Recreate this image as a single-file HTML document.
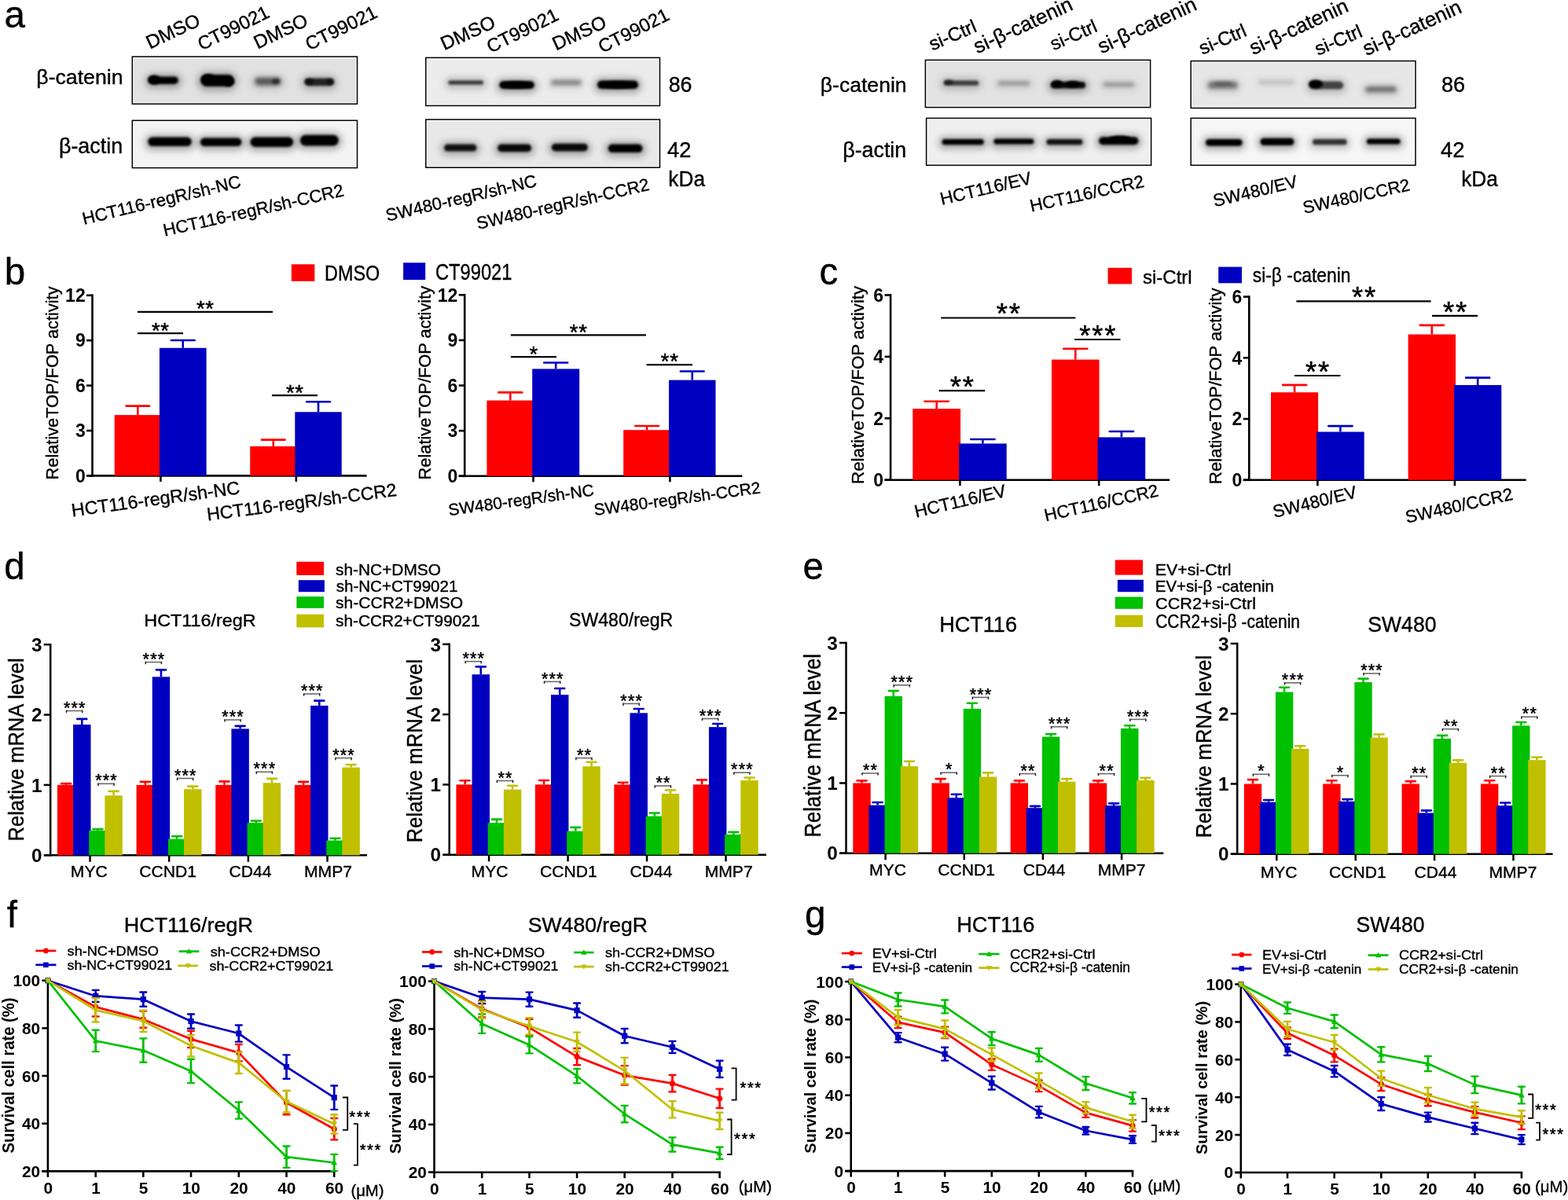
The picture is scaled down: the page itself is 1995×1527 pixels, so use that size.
<!DOCTYPE html>
<html><head><meta charset="utf-8"><title>Figure</title>
<style>
html,body{margin:0;padding:0;background:#fff;}
svg{display:block;}
text{font-family:'Liberation Sans', Arial, sans-serif;}
</style></head><body>
<svg xmlns="http://www.w3.org/2000/svg" width="1995" height="1527" viewBox="0 0 1995 1527">
<defs><filter id="bl" x="-20%" y="-50%" width="140%" height="200%"><feGaussianBlur stdDeviation="1.7"/></filter><filter id="bl2" x="-20%" y="-80%" width="140%" height="260%"><feGaussianBlur stdDeviation="2.4"/></filter><filter id="bh" x="-20%" y="-60%" width="140%" height="220%"><feGaussianBlur stdDeviation="4"/></filter></defs>
<rect width="1995" height="1527" fill="#fff"/>
<text x="5.60" y="34.95" font-size="47.5" stroke="#000" stroke-width="0.38">a</text>
<text x="5.85" y="362.10" font-size="47.5" stroke="#000" stroke-width="0.38">b</text>
<text x="1042.50" y="361.85" font-size="47.5" stroke="#000" stroke-width="0.38">c</text>
<text x="5.30" y="736.90" font-size="47.5" stroke="#000" stroke-width="0.38">d</text>
<text x="1021.60" y="736.65" font-size="47.5" stroke="#000" stroke-width="0.38">e</text>
<text x="8.72" y="1180.40" font-size="47.5" stroke="#000" stroke-width="0.38">f</text>
<text x="1023.90" y="1180.35" font-size="47.5" stroke="#000" stroke-width="0.38">g</text>
<rect x="168.30" y="72.10" width="286.20" height="60.20" fill="#e1e1e1"/>
<g filter="url(#bh)">
<rect x="184.50" y="93.50" width="47.10" height="19.40" rx="9.70" fill="#000" fill-opacity="0.280"/>
<rect x="250.50" y="91.00" width="52.10" height="24.90" rx="12.45" fill="#000" fill-opacity="0.280"/>
<rect x="319.50" y="95.50" width="42.90" height="18.20" rx="9.10" fill="#000" fill-opacity="0.154"/>
<rect x="383.00" y="95.50" width="46.70" height="19.60" rx="9.80" fill="#000" fill-opacity="0.224"/>
</g>
<rect filter="url(#bl)" x="189.30" y="97.40" width="37.50" height="9.60" rx="4.80" fill="#000" fill-opacity="1.000"/>
<rect filter="url(#bl)" x="255.30" y="94.90" width="42.50" height="15.10" rx="7.55" fill="#000" fill-opacity="1.000"/>
<rect filter="url(#bl2)" x="324.30" y="98.75" width="33.30" height="9.70" rx="4.85" fill="#000" fill-opacity="0.550"/>
<rect filter="url(#bl)" x="387.80" y="99.40" width="37.10" height="9.80" rx="4.90" fill="#000" fill-opacity="0.800"/>
<g filter="url(#bl)">
<ellipse cx="196.00" cy="101.50" rx="8.00" ry="6.00" fill="#000" fill-opacity="1.000"/>
<ellipse cx="265.00" cy="100.50" rx="9.00" ry="6.50" fill="#000" fill-opacity="1.000"/>
<ellipse cx="291.00" cy="104.00" rx="7.00" ry="6.00" fill="#000" fill-opacity="1.000"/>
<ellipse cx="351.00" cy="103.50" rx="5.00" ry="3.50" fill="#000" fill-opacity="0.500"/>
<ellipse cx="393.00" cy="104.00" rx="6.00" ry="4.00" fill="#000" fill-opacity="0.600"/>
<ellipse cx="420.00" cy="104.00" rx="5.00" ry="4.00" fill="#000" fill-opacity="0.500"/>
</g>
<rect x="169.70" y="73.50" width="283.40" height="57.40" fill="none" stroke="#fbfbfb" stroke-width="1.1"/>
<rect x="168.30" y="72.10" width="286.20" height="60.20" fill="none" stroke="#000" stroke-width="1.5"/>
<rect x="168.30" y="153.30" width="286.20" height="60.30" fill="#f3f3f3"/>
<g filter="url(#bh)">
<rect x="183.40" y="170.70" width="65.20" height="21.30" rx="10.65" fill="#000" fill-opacity="0.280"/>
<rect x="250.00" y="171.50" width="62.20" height="20.50" rx="10.25" fill="#000" fill-opacity="0.280"/>
<rect x="313.60" y="170.70" width="64.40" height="22.10" rx="11.05" fill="#000" fill-opacity="0.280"/>
<rect x="377.10" y="167.80" width="58.50" height="23.50" rx="11.75" fill="#000" fill-opacity="0.280"/>
</g>
<rect filter="url(#bl)" x="188.20" y="174.60" width="55.60" height="11.50" rx="5.75" fill="#000" fill-opacity="1.000"/>
<rect filter="url(#bl)" x="254.80" y="175.40" width="52.60" height="10.70" rx="5.35" fill="#000" fill-opacity="1.000"/>
<rect filter="url(#bl)" x="318.40" y="174.60" width="54.80" height="12.30" rx="6.15" fill="#000" fill-opacity="1.000"/>
<rect filter="url(#bl)" x="381.90" y="171.70" width="48.90" height="13.70" rx="6.85" fill="#000" fill-opacity="1.000"/>
<g filter="url(#bl)">
</g>
<rect x="169.70" y="154.70" width="283.40" height="57.50" fill="none" stroke="#fbfbfb" stroke-width="1.1"/>
<rect x="168.30" y="153.30" width="286.20" height="60.30" fill="none" stroke="#000" stroke-width="1.5"/>
<rect x="541.80" y="73.40" width="297.70" height="61.10" fill="#ececec"/>
<g filter="url(#bh)">
<rect x="565.60" y="98.50" width="54.10" height="15.00" rx="7.50" fill="#000" fill-opacity="0.202"/>
<rect x="630.60" y="99.40" width="54.10" height="19.50" rx="9.75" fill="#000" fill-opacity="0.280"/>
<rect x="696.30" y="98.60" width="48.00" height="14.90" rx="7.45" fill="#000" fill-opacity="0.106"/>
<rect x="755.10" y="98.60" width="61.80" height="20.30" rx="10.15" fill="#000" fill-opacity="0.280"/>
</g>
<rect filter="url(#bl)" x="570.40" y="102.40" width="44.50" height="5.20" rx="2.60" fill="#000" fill-opacity="0.720"/>
<rect filter="url(#bl)" x="635.40" y="103.30" width="44.50" height="9.70" rx="4.85" fill="#000" fill-opacity="1.000"/>
<rect filter="url(#bl2)" x="701.10" y="101.85" width="38.40" height="6.40" rx="3.20" fill="#000" fill-opacity="0.380"/>
<rect filter="url(#bl)" x="759.90" y="102.50" width="52.20" height="10.50" rx="5.25" fill="#000" fill-opacity="1.000"/>
<g filter="url(#bl)">
<ellipse cx="657.00" cy="108.00" rx="20.00" ry="4.50" fill="#000" fill-opacity="1.000"/>
<ellipse cx="786.00" cy="108.00" rx="22.00" ry="4.50" fill="#000" fill-opacity="1.000"/>
</g>
<rect x="543.20" y="74.80" width="294.90" height="58.30" fill="none" stroke="#fbfbfb" stroke-width="1.1"/>
<rect x="541.80" y="73.40" width="297.70" height="61.10" fill="none" stroke="#000" stroke-width="1.5"/>
<rect x="541.80" y="152.10" width="297.70" height="61.10" fill="#e8e8e8"/>
<g filter="url(#bh)">
<rect x="560.20" y="179.70" width="51.10" height="18.70" rx="9.35" fill="#000" fill-opacity="0.252"/>
<rect x="628.30" y="179.70" width="52.60" height="19.40" rx="9.70" fill="#000" fill-opacity="0.266"/>
<rect x="697.00" y="178.90" width="55.70" height="19.50" rx="9.75" fill="#000" fill-opacity="0.266"/>
<rect x="768.90" y="179.70" width="53.40" height="20.20" rx="10.10" fill="#000" fill-opacity="0.280"/>
</g>
<rect filter="url(#bl)" x="565.00" y="183.60" width="41.50" height="8.90" rx="4.45" fill="#000" fill-opacity="0.900"/>
<rect filter="url(#bl)" x="633.10" y="183.60" width="43.00" height="9.60" rx="4.80" fill="#000" fill-opacity="0.950"/>
<rect filter="url(#bl)" x="701.80" y="182.80" width="46.10" height="9.70" rx="4.85" fill="#000" fill-opacity="0.950"/>
<rect filter="url(#bl)" x="773.70" y="183.60" width="43.80" height="10.40" rx="5.20" fill="#000" fill-opacity="1.000"/>
<g filter="url(#bl)">
</g>
<rect x="543.20" y="153.50" width="294.90" height="58.30" fill="none" stroke="#fbfbfb" stroke-width="1.1"/>
<rect x="541.80" y="152.10" width="297.70" height="61.10" fill="none" stroke="#000" stroke-width="1.5"/>
<rect x="1177.40" y="76.40" width="286.20" height="60.20" fill="#e3e3e3"/>
<g filter="url(#bh)">
<rect x="1195.90" y="98.60" width="54.00" height="16.10" rx="8.05" fill="#000" fill-opacity="0.190"/>
<rect x="1264.60" y="100.00" width="50.40" height="14.00" rx="7.00" fill="#000" fill-opacity="0.084"/>
<rect x="1331.90" y="100.00" width="54.10" height="18.40" rx="9.20" fill="#000" fill-opacity="0.266"/>
<rect x="1398.50" y="101.50" width="49.50" height="13.90" rx="6.95" fill="#000" fill-opacity="0.084"/>
</g>
<rect filter="url(#bl)" x="1200.70" y="102.50" width="44.40" height="6.30" rx="3.15" fill="#000" fill-opacity="0.680"/>
<rect filter="url(#bl2)" x="1269.40" y="103.25" width="40.80" height="5.50" rx="2.75" fill="#000" fill-opacity="0.300"/>
<rect filter="url(#bl)" x="1336.70" y="103.90" width="44.50" height="8.60" rx="4.30" fill="#000" fill-opacity="0.950"/>
<rect filter="url(#bl2)" x="1403.30" y="104.75" width="39.90" height="5.40" rx="2.70" fill="#000" fill-opacity="0.300"/>
<g filter="url(#bl)">
<ellipse cx="1345.00" cy="106.50" rx="7.00" ry="4.50" fill="#000" fill-opacity="1.000"/>
<ellipse cx="1365.00" cy="107.00" rx="9.00" ry="4.00" fill="#000" fill-opacity="1.000"/>
<ellipse cx="1207.00" cy="104.50" rx="6.00" ry="3.50" fill="#000" fill-opacity="0.500"/>
</g>
<rect x="1178.80" y="77.80" width="283.40" height="57.40" fill="none" stroke="#fbfbfb" stroke-width="1.1"/>
<rect x="1177.40" y="76.40" width="286.20" height="60.20" fill="none" stroke="#000" stroke-width="1.5"/>
<rect x="1178.60" y="150.40" width="286.00" height="59.90" fill="#efefef"/>
<g filter="url(#bh)">
<rect x="1193.70" y="173.20" width="62.90" height="16.90" rx="8.45" fill="#000" fill-opacity="0.280"/>
<rect x="1259.50" y="172.50" width="60.70" height="16.90" rx="8.45" fill="#000" fill-opacity="0.280"/>
<rect x="1326.70" y="173.20" width="55.60" height="16.90" rx="8.45" fill="#000" fill-opacity="0.252"/>
<rect x="1393.30" y="170.30" width="59.90" height="19.80" rx="9.90" fill="#000" fill-opacity="0.280"/>
</g>
<rect filter="url(#bl)" x="1198.50" y="177.10" width="53.30" height="7.10" rx="3.55" fill="#000" fill-opacity="1.000"/>
<rect filter="url(#bl)" x="1264.30" y="176.40" width="51.10" height="7.10" rx="3.55" fill="#000" fill-opacity="1.000"/>
<rect filter="url(#bl)" x="1331.50" y="177.10" width="46.00" height="7.10" rx="3.55" fill="#000" fill-opacity="0.900"/>
<rect filter="url(#bl)" x="1398.10" y="174.20" width="50.30" height="10.00" rx="5.00" fill="#000" fill-opacity="1.000"/>
<g filter="url(#bl)">
<ellipse cx="1425.00" cy="176.50" rx="14.00" ry="4.00" fill="#000" fill-opacity="1.000"/>
</g>
<rect x="1180.00" y="151.80" width="283.20" height="57.10" fill="none" stroke="#fbfbfb" stroke-width="1.1"/>
<rect x="1178.60" y="150.40" width="286.00" height="59.90" fill="none" stroke="#000" stroke-width="1.5"/>
<rect x="1515.20" y="77.60" width="285.80" height="59.90" fill="#e7e7e7"/>
<g filter="url(#bh)">
<rect x="1532.10" y="100.50" width="47.40" height="17.50" rx="8.75" fill="#000" fill-opacity="0.126"/>
<rect x="1595.70" y="98.00" width="56.30" height="15.50" rx="7.75" fill="#000" fill-opacity="0.034"/>
<rect x="1660.80" y="99.50" width="53.30" height="20.00" rx="10.00" fill="#000" fill-opacity="0.182"/>
<rect x="1732.50" y="106.70" width="48.90" height="16.10" rx="8.05" fill="#000" fill-opacity="0.126"/>
</g>
<rect filter="url(#bl2)" x="1536.90" y="103.75" width="37.80" height="9.00" rx="4.50" fill="#000" fill-opacity="0.450"/>
<rect filter="url(#bl2)" x="1600.50" y="101.25" width="46.70" height="7.00" rx="3.50" fill="#000" fill-opacity="0.120"/>
<rect filter="url(#bl)" x="1665.60" y="103.40" width="43.70" height="10.20" rx="5.10" fill="#000" fill-opacity="0.650"/>
<rect filter="url(#bl2)" x="1737.30" y="109.95" width="39.30" height="7.60" rx="3.80" fill="#000" fill-opacity="0.450"/>
<g filter="url(#bl)">
<ellipse cx="1674.00" cy="107.00" rx="9.00" ry="5.50" fill="#000" fill-opacity="1.000"/>
<ellipse cx="1556.00" cy="106.00" rx="12.00" ry="3.50" fill="#000" fill-opacity="0.200"/>
</g>
<rect x="1516.60" y="79.00" width="283.00" height="57.10" fill="none" stroke="#fbfbfb" stroke-width="1.1"/>
<rect x="1515.20" y="77.60" width="285.80" height="59.90" fill="none" stroke="#000" stroke-width="1.5"/>
<rect x="1515.20" y="150.40" width="285.80" height="59.90" fill="#f6f6f6"/>
<g filter="url(#bh)">
<rect x="1529.20" y="173.20" width="56.30" height="18.40" rx="9.20" fill="#000" fill-opacity="0.280"/>
<rect x="1598.70" y="171.80" width="52.60" height="19.10" rx="9.55" fill="#000" fill-opacity="0.280"/>
<rect x="1665.20" y="173.20" width="53.30" height="16.90" rx="8.45" fill="#000" fill-opacity="0.210"/>
<rect x="1734.00" y="172.50" width="52.50" height="16.90" rx="8.45" fill="#000" fill-opacity="0.280"/>
</g>
<rect filter="url(#bl)" x="1534.00" y="177.10" width="46.70" height="8.60" rx="4.30" fill="#000" fill-opacity="1.000"/>
<rect filter="url(#bl)" x="1603.50" y="175.70" width="43.00" height="9.30" rx="4.65" fill="#000" fill-opacity="1.000"/>
<rect filter="url(#bl)" x="1670.00" y="177.10" width="43.70" height="7.10" rx="3.55" fill="#000" fill-opacity="0.750"/>
<rect filter="url(#bl)" x="1738.80" y="176.40" width="42.90" height="7.10" rx="3.55" fill="#000" fill-opacity="1.000"/>
<g filter="url(#bl)">
</g>
<rect x="1516.60" y="151.80" width="283.00" height="57.10" fill="none" stroke="#fbfbfb" stroke-width="1.1"/>
<rect x="1515.20" y="150.40" width="285.80" height="59.90" fill="none" stroke="#000" stroke-width="1.5"/>
<text transform="translate(46.33 106.57) scale(1.0014 1)" font-size="26.63" stroke="#000" stroke-width="0.38">β-catenin</text>
<text transform="translate(74.92 195.29) scale(0.9939 1)" font-size="27.07" stroke="#000" stroke-width="0.38">β-actin</text>
<text transform="translate(1043.74 117.27) scale(0.9985 1)" font-size="26.63" stroke="#000" stroke-width="0.38">β-catenin</text>
<text transform="translate(1072.22 199.81) scale(0.9953 1)" font-size="26.96" stroke="#000" stroke-width="0.38">β-actin</text>
<text transform="translate(850.63 117.40) scale(0.9743 1)" font-size="27.57" stroke="#000" stroke-width="0.38">86</text>
<text transform="translate(849.05 199.88) scale(0.9763 1)" font-size="27.97" stroke="#000" stroke-width="0.38">42</text>
<text transform="translate(850.36 236.60) scale(0.9540 1)" font-size="27.5" stroke="#000" stroke-width="0.38">kDa</text>
<text transform="translate(1834.02 117.20) scale(0.9814 1)" font-size="27.57" stroke="#000" stroke-width="0.38">86</text>
<text transform="translate(1833.05 199.88) scale(0.9663 1)" font-size="28.26" stroke="#000" stroke-width="0.38">42</text>
<text transform="translate(1859.16 236.60) scale(0.9561 1)" font-size="27.5" stroke="#000" stroke-width="0.38">kDa</text>
<text transform="translate(190.66 62.87) rotate(-25.5)" font-size="24.3" stroke="#000" stroke-width="0.38">DMSO</text>
<text transform="translate(256.38 64.71) rotate(-26.25)" font-size="23.9" stroke="#000" stroke-width="0.38">CT99021</text>
<text transform="translate(327.86 62.87) rotate(-25.5)" font-size="24.3" stroke="#000" stroke-width="0.38">DMSO</text>
<text transform="translate(393.58 64.71) rotate(-26.25)" font-size="23.9" stroke="#000" stroke-width="0.38">CT99021</text>
<text transform="translate(565.34 64.37) rotate(-24.25)" font-size="24.4" stroke="#000" stroke-width="0.38">DMSO</text>
<text transform="translate(624.18 67.91) rotate(-26.25)" font-size="23.9" stroke="#000" stroke-width="0.38">CT99021</text>
<text transform="translate(707.43 64.49) rotate(-24.75)" font-size="24.2" stroke="#000" stroke-width="0.38">DMSO</text>
<text transform="translate(766.26 68.10) rotate(-26.75)" font-size="23.7" stroke="#000" stroke-width="0.38">CT99021</text>
<text transform="translate(1186.19 64.67) rotate(-23.25)" font-size="24.2" stroke="#000" stroke-width="0.38">si-Ctrl</text>
<text transform="translate(1243.62 68.43) rotate(-24.75)" font-size="26.1" stroke="#000" stroke-width="0.38">si-β-catenin</text>
<text transform="translate(1340.54 64.60) rotate(-23.75)" font-size="23.9" stroke="#000" stroke-width="0.38">si-Ctrl</text>
<text transform="translate(1401.42 68.43) rotate(-24.75)" font-size="26.1" stroke="#000" stroke-width="0.38">si-β-catenin</text>
<text transform="translate(1529.79 70.07) rotate(-23.25)" font-size="24.2" stroke="#000" stroke-width="0.38">si-Ctrl</text>
<text transform="translate(1594.42 70.23) rotate(-24.75)" font-size="26.1" stroke="#000" stroke-width="0.38">si-β-catenin</text>
<text transform="translate(1676.89 70.97) rotate(-23.25)" font-size="24.2" stroke="#000" stroke-width="0.38">si-Ctrl</text>
<text transform="translate(1738.66 71.27) rotate(-24.5)" font-size="26.0" stroke="#000" stroke-width="0.38">si-β-catenin</text>
<text transform="translate(106.76 285.97) rotate(-13.5)" font-size="22.3" stroke="#000" stroke-width="0.38">HCT116-regR/sh-NC</text>
<text transform="translate(209.46 300.77) rotate(-12.75)" font-size="22.3" stroke="#000" stroke-width="0.38">HCT116-regR/sh-CCR2</text>
<text transform="translate(492.87 281.81) rotate(-13.25)" font-size="22.1" stroke="#000" stroke-width="0.38">SW480-regR/sh-NC</text>
<text transform="translate(608.31 292.09) rotate(-13.0)" font-size="22.1" stroke="#000" stroke-width="0.38">SW480-regR/sh-CCR2</text>
<text transform="translate(1198.18 261.11) rotate(-13.5)" font-size="22.6" stroke="#000" stroke-width="0.38">HCT116/EV</text>
<text transform="translate(1312.19 269.73) rotate(-12.5)" font-size="22.3" stroke="#000" stroke-width="0.38">HCT116/CCR2</text>
<text transform="translate(1545.54 263.30) rotate(-13.5)" font-size="22.4" stroke="#000" stroke-width="0.38">SW480/EV</text>
<text transform="translate(1659.60 272.04) rotate(-12.5)" font-size="22.1" stroke="#000" stroke-width="0.38">SW480/CCR2</text>
<rect x="370.80" y="336.30" width="29.50" height="21.50" fill="#ff0000"/>
<text transform="translate(413.03 356.60) scale(0.8710 1)" font-size="26.86" stroke="#000" stroke-width="0.38">DMSO</text>
<rect x="513.10" y="334.30" width="28.10" height="21.80" fill="#0000c0"/>
<text transform="translate(554.02 355.80) scale(0.8292 1)" font-size="28.57" stroke="#000" stroke-width="0.38">CT99021</text>
<rect x="1409.60" y="340.80" width="30.40" height="20.60" fill="#ff0000"/>
<text transform="translate(1453.88 360.60) scale(0.9957 1)" font-size="24.17" stroke="#000" stroke-width="0.38">si-Ctrl</text>
<rect x="1550.20" y="339.60" width="29.80" height="20.70" fill="#0000c0"/>
<text transform="translate(1593.71 358.88) scale(0.9095 1)" font-size="25.11" stroke="#000" stroke-width="0.38">si-β -catenin</text>
<line x1="117.50" y1="374.50" x2="117.50" y2="606.70" stroke="#000" stroke-width="2.6" stroke-linecap="butt"/>
<line x1="110.00" y1="605.40" x2="117.50" y2="605.40" stroke="#000" stroke-width="2.6" stroke-linecap="butt"/>
<text x="108.70" y="613.63" font-size="23" text-anchor="end" font-weight="bold">0</text>
<line x1="110.00" y1="548.00" x2="117.50" y2="548.00" stroke="#000" stroke-width="2.6" stroke-linecap="butt"/>
<text x="108.70" y="556.23" font-size="23" text-anchor="end" font-weight="bold">3</text>
<line x1="110.00" y1="490.60" x2="117.50" y2="490.60" stroke="#000" stroke-width="2.6" stroke-linecap="butt"/>
<text x="108.70" y="498.83" font-size="23" text-anchor="end" font-weight="bold">6</text>
<line x1="110.00" y1="433.20" x2="117.50" y2="433.20" stroke="#000" stroke-width="2.6" stroke-linecap="butt"/>
<text x="108.70" y="441.43" font-size="23" text-anchor="end" font-weight="bold">9</text>
<line x1="110.00" y1="375.80" x2="117.50" y2="375.80" stroke="#000" stroke-width="2.6" stroke-linecap="butt"/>
<text x="108.70" y="384.03" font-size="23" text-anchor="end" font-weight="bold">12</text>
<line x1="110.00" y1="605.40" x2="466.50" y2="605.40" stroke="#000" stroke-width="2.6" stroke-linecap="butt"/>
<line x1="204.40" y1="605.40" x2="204.40" y2="612.90" stroke="#000" stroke-width="2.6" stroke-linecap="butt"/>
<line x1="376.80" y1="605.40" x2="376.80" y2="612.90" stroke="#000" stroke-width="2.6" stroke-linecap="butt"/>
<rect x="145.70" y="528.10" width="59.20" height="77.30" fill="#ff0000"/>
<line x1="175.30" y1="528.10" x2="175.30" y2="516.62" stroke="#ff0000" stroke-width="2.6" stroke-linecap="butt"/>
<line x1="160.50" y1="516.62" x2="190.10" y2="516.62" stroke="#ff0000" stroke-width="2.6" stroke-linecap="round"/>
<rect x="202.90" y="442.77" width="59.70" height="162.63" fill="#0000c0"/>
<line x1="232.75" y1="442.77" x2="232.75" y2="433.01" stroke="#0000c0" stroke-width="2.6" stroke-linecap="butt"/>
<line x1="217.82" y1="433.01" x2="247.68" y2="433.01" stroke="#0000c0" stroke-width="2.6" stroke-linecap="round"/>
<rect x="318.20" y="567.90" width="59.10" height="37.50" fill="#ff0000"/>
<line x1="347.75" y1="567.90" x2="347.75" y2="559.67" stroke="#ff0000" stroke-width="2.6" stroke-linecap="butt"/>
<line x1="332.98" y1="559.67" x2="362.52" y2="559.67" stroke="#ff0000" stroke-width="2.6" stroke-linecap="round"/>
<rect x="375.30" y="524.27" width="59.40" height="81.13" fill="#0000c0"/>
<line x1="405.00" y1="524.27" x2="405.00" y2="511.26" stroke="#0000c0" stroke-width="2.6" stroke-linecap="butt"/>
<line x1="390.15" y1="511.26" x2="419.85" y2="511.26" stroke="#0000c0" stroke-width="2.6" stroke-linecap="round"/>
<line x1="175.00" y1="424.20" x2="233.00" y2="424.20" stroke="#000" stroke-width="2.2" stroke-linecap="butt"/>
<text x="198.30" y="429.59" font-size="27.4" text-anchor="middle" stroke="#000" stroke-width="0.5">*</text>
<text x="209.70" y="429.59" font-size="27.4" text-anchor="middle" stroke="#000" stroke-width="0.5">*</text>
<line x1="175.00" y1="396.90" x2="347.00" y2="396.90" stroke="#000" stroke-width="2.2" stroke-linecap="butt"/>
<text x="255.30" y="402.29" font-size="27.4" text-anchor="middle" stroke="#000" stroke-width="0.5">*</text>
<text x="266.70" y="402.29" font-size="27.4" text-anchor="middle" stroke="#000" stroke-width="0.5">*</text>
<line x1="346.00" y1="503.20" x2="404.00" y2="503.20" stroke="#000" stroke-width="2.2" stroke-linecap="butt"/>
<text x="369.30" y="508.59" font-size="27.4" text-anchor="middle" stroke="#000" stroke-width="0.5">*</text>
<text x="380.70" y="508.59" font-size="27.4" text-anchor="middle" stroke="#000" stroke-width="0.5">*</text>
<text transform="translate(73.91 610.44) scale(1.0537 1) rotate(-90)" font-size="21.77" stroke="#000" stroke-width="0.38">RelativeTOP/FOP activity</text>
<text transform="translate(92.02 657.38) rotate(-7.75)" font-size="23.3" stroke="#000" stroke-width="0.38">HCT116-regR/sh-NC</text>
<text transform="translate(264.25 662.62) rotate(-7.5)" font-size="23.1" stroke="#000" stroke-width="0.38">HCT116-regR/sh-CCR2</text>
<line x1="591.20" y1="374.00" x2="591.20" y2="607.10" stroke="#000" stroke-width="2.6" stroke-linecap="butt"/>
<line x1="583.70" y1="605.80" x2="591.20" y2="605.80" stroke="#000" stroke-width="2.6" stroke-linecap="butt"/>
<text x="582.40" y="614.03" font-size="23" text-anchor="end" font-weight="bold">0</text>
<line x1="583.70" y1="548.17" x2="591.20" y2="548.17" stroke="#000" stroke-width="2.6" stroke-linecap="butt"/>
<text x="582.40" y="556.41" font-size="23" text-anchor="end" font-weight="bold">3</text>
<line x1="583.70" y1="490.55" x2="591.20" y2="490.55" stroke="#000" stroke-width="2.6" stroke-linecap="butt"/>
<text x="582.40" y="498.78" font-size="23" text-anchor="end" font-weight="bold">6</text>
<line x1="583.70" y1="432.93" x2="591.20" y2="432.93" stroke="#000" stroke-width="2.6" stroke-linecap="butt"/>
<text x="582.40" y="441.16" font-size="23" text-anchor="end" font-weight="bold">9</text>
<line x1="583.70" y1="375.30" x2="591.20" y2="375.30" stroke="#000" stroke-width="2.6" stroke-linecap="butt"/>
<text x="582.40" y="383.53" font-size="23" text-anchor="end" font-weight="bold">12</text>
<line x1="583.70" y1="605.80" x2="944.40" y2="605.80" stroke="#000" stroke-width="2.6" stroke-linecap="butt"/>
<line x1="678.50" y1="605.80" x2="678.50" y2="613.30" stroke="#000" stroke-width="2.6" stroke-linecap="butt"/>
<line x1="852.40" y1="605.80" x2="852.40" y2="613.30" stroke="#000" stroke-width="2.6" stroke-linecap="butt"/>
<rect x="619.40" y="509.57" width="59.80" height="96.23" fill="#ff0000"/>
<line x1="649.30" y1="509.57" x2="649.30" y2="499.39" stroke="#ff0000" stroke-width="2.6" stroke-linecap="butt"/>
<line x1="634.35" y1="499.39" x2="664.25" y2="499.39" stroke="#ff0000" stroke-width="2.6" stroke-linecap="round"/>
<rect x="677.20" y="469.42" width="60.00" height="136.38" fill="#0000c0"/>
<line x1="707.20" y1="469.42" x2="707.20" y2="461.55" stroke="#0000c0" stroke-width="2.6" stroke-linecap="butt"/>
<line x1="692.20" y1="461.55" x2="722.20" y2="461.55" stroke="#0000c0" stroke-width="2.6" stroke-linecap="round"/>
<rect x="793.20" y="547.21" width="59.80" height="58.59" fill="#ff0000"/>
<line x1="823.10" y1="547.21" x2="823.10" y2="542.03" stroke="#ff0000" stroke-width="2.6" stroke-linecap="butt"/>
<line x1="808.15" y1="542.03" x2="838.05" y2="542.03" stroke="#ff0000" stroke-width="2.6" stroke-linecap="round"/>
<rect x="851.00" y="483.63" width="59.50" height="122.16" fill="#0000c0"/>
<line x1="880.75" y1="483.63" x2="880.75" y2="472.49" stroke="#0000c0" stroke-width="2.6" stroke-linecap="butt"/>
<line x1="865.88" y1="472.49" x2="895.62" y2="472.49" stroke="#0000c0" stroke-width="2.6" stroke-linecap="round"/>
<line x1="649.90" y1="454.20" x2="708.00" y2="454.20" stroke="#000" stroke-width="2.2" stroke-linecap="butt"/>
<text x="678.95" y="459.59" font-size="27.4" text-anchor="middle" stroke="#000" stroke-width="0.5">*</text>
<line x1="649.90" y1="426.30" x2="821.90" y2="426.30" stroke="#000" stroke-width="2.2" stroke-linecap="butt"/>
<text x="730.20" y="431.69" font-size="27.4" text-anchor="middle" stroke="#000" stroke-width="0.5">*</text>
<text x="741.60" y="431.69" font-size="27.4" text-anchor="middle" stroke="#000" stroke-width="0.5">*</text>
<line x1="822.60" y1="464.10" x2="881.00" y2="464.10" stroke="#000" stroke-width="2.2" stroke-linecap="butt"/>
<text x="846.10" y="469.49" font-size="27.4" text-anchor="middle" stroke="#000" stroke-width="0.5">*</text>
<text x="857.50" y="469.49" font-size="27.4" text-anchor="middle" stroke="#000" stroke-width="0.5">*</text>
<text transform="translate(548.10 610.45) scale(1.0299 1) rotate(-90)" font-size="21.85" stroke="#000" stroke-width="0.38">RelativeTOP/FOP activity</text>
<text transform="translate(571.60 656.32) rotate(-8.0)" font-size="21.0" stroke="#000" stroke-width="0.38">SW480-regR/sh-NC</text>
<text transform="translate(756.75 656.11) rotate(-7.75)" font-size="21.0" stroke="#000" stroke-width="0.38">SW480-regR/sh-CCR2</text>
<line x1="1133.10" y1="374.20" x2="1133.10" y2="612.00" stroke="#000" stroke-width="2.6" stroke-linecap="butt"/>
<line x1="1125.60" y1="610.70" x2="1133.10" y2="610.70" stroke="#000" stroke-width="2.6" stroke-linecap="butt"/>
<text x="1124.00" y="618.93" font-size="23" text-anchor="end" font-weight="bold">0</text>
<line x1="1125.60" y1="532.30" x2="1133.10" y2="532.30" stroke="#000" stroke-width="2.6" stroke-linecap="butt"/>
<text x="1124.00" y="540.53" font-size="23" text-anchor="end" font-weight="bold">2</text>
<line x1="1125.60" y1="453.90" x2="1133.10" y2="453.90" stroke="#000" stroke-width="2.6" stroke-linecap="butt"/>
<text x="1124.00" y="462.13" font-size="23" text-anchor="end" font-weight="bold">4</text>
<line x1="1125.60" y1="375.50" x2="1133.10" y2="375.50" stroke="#000" stroke-width="2.6" stroke-linecap="butt"/>
<text x="1124.00" y="383.73" font-size="23" text-anchor="end" font-weight="bold">6</text>
<line x1="1125.60" y1="610.70" x2="1488.20" y2="610.70" stroke="#000" stroke-width="2.6" stroke-linecap="butt"/>
<line x1="1221.40" y1="610.70" x2="1221.40" y2="618.20" stroke="#000" stroke-width="2.6" stroke-linecap="butt"/>
<line x1="1398.20" y1="610.70" x2="1398.20" y2="618.20" stroke="#000" stroke-width="2.6" stroke-linecap="butt"/>
<rect x="1161.30" y="520.15" width="60.80" height="90.55" fill="#ff0000"/>
<line x1="1191.70" y1="520.15" x2="1191.70" y2="510.74" stroke="#ff0000" stroke-width="2.6" stroke-linecap="butt"/>
<line x1="1176.50" y1="510.74" x2="1206.90" y2="510.74" stroke="#ff0000" stroke-width="2.6" stroke-linecap="round"/>
<rect x="1220.10" y="564.44" width="60.60" height="46.26" fill="#0000c0"/>
<line x1="1250.40" y1="564.44" x2="1250.40" y2="558.96" stroke="#0000c0" stroke-width="2.6" stroke-linecap="butt"/>
<line x1="1235.25" y1="558.96" x2="1265.55" y2="558.96" stroke="#0000c0" stroke-width="2.6" stroke-linecap="round"/>
<rect x="1338.00" y="457.58" width="60.60" height="153.12" fill="#ff0000"/>
<line x1="1368.30" y1="457.58" x2="1368.30" y2="443.71" stroke="#ff0000" stroke-width="2.6" stroke-linecap="butt"/>
<line x1="1353.15" y1="443.71" x2="1383.45" y2="443.71" stroke="#ff0000" stroke-width="2.6" stroke-linecap="round"/>
<rect x="1396.60" y="556.41" width="60.60" height="54.29" fill="#0000c0"/>
<line x1="1426.90" y1="556.41" x2="1426.90" y2="548.96" stroke="#0000c0" stroke-width="2.6" stroke-linecap="butt"/>
<line x1="1411.75" y1="548.96" x2="1442.05" y2="548.96" stroke="#0000c0" stroke-width="2.6" stroke-linecap="round"/>
<line x1="1194.70" y1="497.20" x2="1253.10" y2="497.20" stroke="#000" stroke-width="2.2" stroke-linecap="butt"/>
<text x="1215.90" y="504.97" font-size="36.5" text-anchor="middle" stroke="#000" stroke-width="0.5">*</text>
<text x="1231.90" y="504.97" font-size="36.5" text-anchor="middle" stroke="#000" stroke-width="0.5">*</text>
<line x1="1197.20" y1="404.50" x2="1368.40" y2="404.50" stroke="#000" stroke-width="2.2" stroke-linecap="butt"/>
<text x="1274.80" y="412.27" font-size="36.5" text-anchor="middle" stroke="#000" stroke-width="0.5">*</text>
<text x="1290.80" y="412.27" font-size="36.5" text-anchor="middle" stroke="#000" stroke-width="0.5">*</text>
<line x1="1367.10" y1="432.00" x2="1425.50" y2="432.00" stroke="#000" stroke-width="2.2" stroke-linecap="butt"/>
<text x="1380.30" y="439.77" font-size="36.5" text-anchor="middle" stroke="#000" stroke-width="0.5">*</text>
<text x="1396.30" y="439.77" font-size="36.5" text-anchor="middle" stroke="#000" stroke-width="0.5">*</text>
<text x="1412.30" y="439.77" font-size="36.5" text-anchor="middle" stroke="#000" stroke-width="0.5">*</text>
<text transform="translate(1099.03 615.99) scale(0.9781 1) rotate(-90)" font-size="22.34" stroke="#000" stroke-width="0.38">RelativeTOP/FOP activity</text>
<text transform="translate(1165.41 658.82) rotate(-13.25)" font-size="22.6" stroke="#000" stroke-width="0.38">HCT116/EV</text>
<text transform="translate(1330.56 663.62) rotate(-12.75)" font-size="22.3" stroke="#000" stroke-width="0.38">HCT116/CCR2</text>
<line x1="1589.30" y1="376.30" x2="1589.30" y2="612.10" stroke="#000" stroke-width="2.6" stroke-linecap="butt"/>
<line x1="1581.80" y1="610.80" x2="1589.30" y2="610.80" stroke="#000" stroke-width="2.6" stroke-linecap="butt"/>
<text x="1580.20" y="619.03" font-size="23" text-anchor="end" font-weight="bold">0</text>
<line x1="1581.80" y1="533.07" x2="1589.30" y2="533.07" stroke="#000" stroke-width="2.6" stroke-linecap="butt"/>
<text x="1580.20" y="541.30" font-size="23" text-anchor="end" font-weight="bold">2</text>
<line x1="1581.80" y1="455.33" x2="1589.30" y2="455.33" stroke="#000" stroke-width="2.6" stroke-linecap="butt"/>
<text x="1580.20" y="463.57" font-size="23" text-anchor="end" font-weight="bold">4</text>
<line x1="1581.80" y1="377.60" x2="1589.30" y2="377.60" stroke="#000" stroke-width="2.6" stroke-linecap="butt"/>
<text x="1580.20" y="385.83" font-size="23" text-anchor="end" font-weight="bold">6</text>
<line x1="1581.80" y1="610.80" x2="1941.70" y2="610.80" stroke="#000" stroke-width="2.6" stroke-linecap="butt"/>
<line x1="1676.40" y1="610.80" x2="1676.40" y2="618.30" stroke="#000" stroke-width="2.6" stroke-linecap="butt"/>
<line x1="1850.90" y1="610.80" x2="1850.90" y2="618.30" stroke="#000" stroke-width="2.6" stroke-linecap="butt"/>
<rect x="1617.00" y="499.25" width="60.10" height="111.55" fill="#ff0000"/>
<line x1="1647.05" y1="499.25" x2="1647.05" y2="489.92" stroke="#ff0000" stroke-width="2.6" stroke-linecap="butt"/>
<line x1="1632.03" y1="489.92" x2="1662.07" y2="489.92" stroke="#ff0000" stroke-width="2.6" stroke-linecap="round"/>
<rect x="1675.10" y="549.51" width="60.60" height="61.29" fill="#0000c0"/>
<line x1="1705.40" y1="549.51" x2="1705.40" y2="542.12" stroke="#0000c0" stroke-width="2.6" stroke-linecap="butt"/>
<line x1="1690.25" y1="542.12" x2="1720.55" y2="542.12" stroke="#0000c0" stroke-width="2.6" stroke-linecap="round"/>
<rect x="1791.60" y="425.52" width="60.40" height="185.28" fill="#ff0000"/>
<line x1="1821.80" y1="425.52" x2="1821.80" y2="413.86" stroke="#ff0000" stroke-width="2.6" stroke-linecap="butt"/>
<line x1="1806.70" y1="413.86" x2="1836.90" y2="413.86" stroke="#ff0000" stroke-width="2.6" stroke-linecap="round"/>
<rect x="1850.00" y="490.00" width="60.30" height="120.80" fill="#0000c0"/>
<line x1="1880.15" y1="490.00" x2="1880.15" y2="480.67" stroke="#0000c0" stroke-width="2.6" stroke-linecap="butt"/>
<line x1="1865.08" y1="480.67" x2="1895.23" y2="480.67" stroke="#0000c0" stroke-width="2.6" stroke-linecap="round"/>
<line x1="1646.90" y1="478.00" x2="1705.50" y2="478.00" stroke="#000" stroke-width="2.2" stroke-linecap="butt"/>
<text x="1668.20" y="485.77" font-size="36.5" text-anchor="middle" stroke="#000" stroke-width="0.5">*</text>
<text x="1684.20" y="485.77" font-size="36.5" text-anchor="middle" stroke="#000" stroke-width="0.5">*</text>
<line x1="1649.40" y1="383.30" x2="1820.60" y2="383.30" stroke="#000" stroke-width="2.2" stroke-linecap="butt"/>
<text x="1727.00" y="391.07" font-size="36.5" text-anchor="middle" stroke="#000" stroke-width="0.5">*</text>
<text x="1743.00" y="391.07" font-size="36.5" text-anchor="middle" stroke="#000" stroke-width="0.5">*</text>
<line x1="1822.00" y1="401.90" x2="1880.10" y2="401.90" stroke="#000" stroke-width="2.2" stroke-linecap="butt"/>
<text x="1843.05" y="409.67" font-size="36.5" text-anchor="middle" stroke="#000" stroke-width="0.5">*</text>
<text x="1859.05" y="409.67" font-size="36.5" text-anchor="middle" stroke="#000" stroke-width="0.5">*</text>
<text transform="translate(1554.14 615.97) scale(0.9642 1) rotate(-90)" font-size="22.1" stroke="#000" stroke-width="0.38">RelativeTOP/FOP activity</text>
<text transform="translate(1621.59 658.96) rotate(-13.75)" font-size="22.3" stroke="#000" stroke-width="0.38">SW480/EV</text>
<text transform="translate(1790.00 665.84) rotate(-12.5)" font-size="22.2" stroke="#000" stroke-width="0.38">SW480/CCR2</text>
<rect x="377.30" y="714.80" width="34.70" height="17.10" fill="#ff0000"/>
<rect x="379.80" y="738.20" width="33.10" height="15.00" fill="#0000c0"/>
<rect x="377.30" y="759.10" width="34.70" height="14.80" fill="#00c000"/>
<rect x="377.30" y="781.70" width="34.70" height="16.70" fill="#c0c000"/>
<text transform="translate(426.97 731.90) scale(1.0299 1)" font-size="20.28" stroke="#000" stroke-width="0.38">sh-NC+DMSO</text>
<text transform="translate(427.68 753.20) scale(1.0135 1)" font-size="20.28" stroke="#000" stroke-width="0.38">sh-NC+CT99021</text>
<text transform="translate(426.97 774.20) scale(1.0394 1)" font-size="20.28" stroke="#000" stroke-width="0.38">sh-CCR2+DMSO</text>
<text transform="translate(426.97 797.10) scale(1.0282 1)" font-size="20.28" stroke="#000" stroke-width="0.38">sh-CCR2+CT99021</text>
<rect x="1418.80" y="712.50" width="35.30" height="19.10" fill="#ff0000"/>
<rect x="1421.90" y="737.80" width="33.00" height="15.40" fill="#0000c0"/>
<rect x="1418.80" y="759.50" width="35.30" height="15.30" fill="#00c000"/>
<rect x="1418.80" y="782.70" width="35.30" height="15.30" fill="#c0c000"/>
<text transform="translate(1469.69 731.60) scale(1.0478 1)" font-size="20.42" stroke="#000" stroke-width="0.38">EV+si-Ctrl</text>
<text transform="translate(1469.76 752.91) scale(1.0024 1)" font-size="20.43" stroke="#000" stroke-width="0.38">EV+si-β -catenin</text>
<text transform="translate(1470.12 774.80) scale(1.0600 1)" font-size="20.42" stroke="#000" stroke-width="0.38">CCR2+si-Ctrl</text>
<text transform="translate(1470.15 799.37) scale(0.9053 1)" font-size="23.15" stroke="#000" stroke-width="0.38">CCR2+si-β -catenin</text>
<line x1="64.20" y1="818.95" x2="64.20" y2="1089.45" stroke="#000" stroke-width="2.5" stroke-linecap="butt"/>
<line x1="55.70" y1="1088.20" x2="64.20" y2="1088.20" stroke="#000" stroke-width="2.5" stroke-linecap="butt"/>
<text x="53.40" y="1096.90" font-size="24.3" text-anchor="end" font-weight="bold">0</text>
<line x1="55.70" y1="998.87" x2="64.20" y2="998.87" stroke="#000" stroke-width="2.5" stroke-linecap="butt"/>
<text x="53.40" y="1007.57" font-size="24.3" text-anchor="end" font-weight="bold">1</text>
<line x1="55.70" y1="909.53" x2="64.20" y2="909.53" stroke="#000" stroke-width="2.5" stroke-linecap="butt"/>
<text x="53.40" y="918.23" font-size="24.3" text-anchor="end" font-weight="bold">2</text>
<line x1="55.70" y1="820.20" x2="64.20" y2="820.20" stroke="#000" stroke-width="2.5" stroke-linecap="butt"/>
<text x="53.40" y="828.90" font-size="24.3" text-anchor="end" font-weight="bold">3</text>
<line x1="56.00" y1="1088.20" x2="467.00" y2="1088.20" stroke="#000" stroke-width="2.5" stroke-linecap="butt"/>
<line x1="114.50" y1="1088.20" x2="114.50" y2="1096.70" stroke="#000" stroke-width="2.5" stroke-linecap="butt"/>
<text x="113.30" y="1116.10" font-size="21.1" text-anchor="middle" stroke="#000" stroke-width="0.38">MYC</text>
<rect x="72.90" y="998.87" width="22.45" height="89.33" fill="#ff0000"/>
<line x1="84.12" y1="998.87" x2="84.12" y2="997.08" stroke="#ff0000" stroke-width="2.6" stroke-linecap="butt"/>
<line x1="78.12" y1="997.08" x2="90.12" y2="997.08" stroke="#ff0000" stroke-width="2.6" stroke-linecap="round"/>
<rect x="93.05" y="922.04" width="22.45" height="166.16" fill="#0000c0"/>
<line x1="104.28" y1="922.04" x2="104.28" y2="914.89" stroke="#0000c0" stroke-width="2.6" stroke-linecap="butt"/>
<line x1="98.28" y1="914.89" x2="110.28" y2="914.89" stroke="#0000c0" stroke-width="2.6" stroke-linecap="round"/>
<rect x="113.20" y="1056.93" width="22.45" height="31.27" fill="#00c000"/>
<line x1="124.43" y1="1056.93" x2="124.43" y2="1055.15" stroke="#00c000" stroke-width="2.6" stroke-linecap="butt"/>
<line x1="118.43" y1="1055.15" x2="130.43" y2="1055.15" stroke="#00c000" stroke-width="2.6" stroke-linecap="round"/>
<rect x="133.35" y="1012.27" width="22.45" height="75.93" fill="#c0c000"/>
<line x1="144.57" y1="1012.27" x2="144.57" y2="1006.91" stroke="#c0c000" stroke-width="2.6" stroke-linecap="butt"/>
<line x1="138.57" y1="1006.91" x2="150.57" y2="1006.91" stroke="#c0c000" stroke-width="2.6" stroke-linecap="round"/>
<line x1="215.17" y1="1088.20" x2="215.17" y2="1096.70" stroke="#000" stroke-width="2.5" stroke-linecap="butt"/>
<text x="213.67" y="1116.10" font-size="21.1" text-anchor="middle" stroke="#000" stroke-width="0.38">CCND1</text>
<rect x="173.57" y="998.87" width="22.45" height="89.33" fill="#ff0000"/>
<line x1="184.80" y1="998.87" x2="184.80" y2="994.85" stroke="#ff0000" stroke-width="2.6" stroke-linecap="butt"/>
<line x1="178.80" y1="994.85" x2="190.80" y2="994.85" stroke="#ff0000" stroke-width="2.6" stroke-linecap="round"/>
<rect x="193.72" y="861.29" width="22.45" height="226.91" fill="#0000c0"/>
<line x1="204.94" y1="861.29" x2="204.94" y2="852.36" stroke="#0000c0" stroke-width="2.6" stroke-linecap="butt"/>
<line x1="198.94" y1="852.36" x2="210.94" y2="852.36" stroke="#0000c0" stroke-width="2.6" stroke-linecap="round"/>
<rect x="213.87" y="1067.65" width="22.45" height="20.55" fill="#00c000"/>
<line x1="225.09" y1="1067.65" x2="225.09" y2="1064.08" stroke="#00c000" stroke-width="2.6" stroke-linecap="butt"/>
<line x1="219.09" y1="1064.08" x2="231.09" y2="1064.08" stroke="#00c000" stroke-width="2.6" stroke-linecap="round"/>
<rect x="234.02" y="1004.23" width="22.45" height="83.97" fill="#c0c000"/>
<line x1="245.24" y1="1004.23" x2="245.24" y2="1000.65" stroke="#c0c000" stroke-width="2.6" stroke-linecap="butt"/>
<line x1="239.24" y1="1000.65" x2="251.24" y2="1000.65" stroke="#c0c000" stroke-width="2.6" stroke-linecap="round"/>
<line x1="315.84" y1="1088.20" x2="315.84" y2="1096.70" stroke="#000" stroke-width="2.5" stroke-linecap="butt"/>
<text x="318.44" y="1116.10" font-size="21.1" text-anchor="middle" stroke="#000" stroke-width="0.38">CD44</text>
<rect x="274.24" y="998.87" width="22.45" height="89.33" fill="#ff0000"/>
<line x1="285.47" y1="998.87" x2="285.47" y2="994.40" stroke="#ff0000" stroke-width="2.6" stroke-linecap="butt"/>
<line x1="279.47" y1="994.40" x2="291.47" y2="994.40" stroke="#ff0000" stroke-width="2.6" stroke-linecap="round"/>
<rect x="294.39" y="927.40" width="22.45" height="160.80" fill="#0000c0"/>
<line x1="305.62" y1="927.40" x2="305.62" y2="923.83" stroke="#0000c0" stroke-width="2.6" stroke-linecap="butt"/>
<line x1="299.62" y1="923.83" x2="311.62" y2="923.83" stroke="#0000c0" stroke-width="2.6" stroke-linecap="round"/>
<rect x="314.54" y="1047.11" width="22.45" height="41.09" fill="#00c000"/>
<line x1="325.76" y1="1047.11" x2="325.76" y2="1044.43" stroke="#00c000" stroke-width="2.6" stroke-linecap="butt"/>
<line x1="319.76" y1="1044.43" x2="331.76" y2="1044.43" stroke="#00c000" stroke-width="2.6" stroke-linecap="round"/>
<rect x="334.69" y="996.19" width="22.45" height="92.01" fill="#c0c000"/>
<line x1="345.92" y1="996.19" x2="345.92" y2="990.83" stroke="#c0c000" stroke-width="2.6" stroke-linecap="butt"/>
<line x1="339.92" y1="990.83" x2="351.92" y2="990.83" stroke="#c0c000" stroke-width="2.6" stroke-linecap="round"/>
<line x1="416.51" y1="1088.20" x2="416.51" y2="1096.70" stroke="#000" stroke-width="2.5" stroke-linecap="butt"/>
<text x="417.51" y="1116.10" font-size="21.1" text-anchor="middle" stroke="#000" stroke-width="0.38">MMP7</text>
<rect x="374.91" y="998.87" width="22.45" height="89.33" fill="#ff0000"/>
<line x1="386.13" y1="998.87" x2="386.13" y2="994.85" stroke="#ff0000" stroke-width="2.6" stroke-linecap="butt"/>
<line x1="380.13" y1="994.85" x2="392.13" y2="994.85" stroke="#ff0000" stroke-width="2.6" stroke-linecap="round"/>
<rect x="395.06" y="897.92" width="22.45" height="190.28" fill="#0000c0"/>
<line x1="406.28" y1="897.92" x2="406.28" y2="891.67" stroke="#0000c0" stroke-width="2.6" stroke-linecap="butt"/>
<line x1="400.28" y1="891.67" x2="412.28" y2="891.67" stroke="#0000c0" stroke-width="2.6" stroke-linecap="round"/>
<rect x="415.21" y="1069.44" width="22.45" height="18.76" fill="#00c000"/>
<line x1="426.43" y1="1069.44" x2="426.43" y2="1066.76" stroke="#00c000" stroke-width="2.6" stroke-linecap="butt"/>
<line x1="420.43" y1="1066.76" x2="432.43" y2="1066.76" stroke="#00c000" stroke-width="2.6" stroke-linecap="round"/>
<rect x="435.36" y="976.53" width="22.45" height="111.67" fill="#c0c000"/>
<line x1="446.58" y1="976.53" x2="446.58" y2="972.96" stroke="#c0c000" stroke-width="2.6" stroke-linecap="butt"/>
<line x1="440.58" y1="972.96" x2="452.58" y2="972.96" stroke="#c0c000" stroke-width="2.6" stroke-linecap="round"/>
<line x1="84.58" y1="904.50" x2="104.72" y2="904.50" stroke="#6a6a6a" stroke-width="1.6" stroke-linecap="butt"/>
<line x1="84.58" y1="903.70" x2="84.58" y2="907.10" stroke="#222" stroke-width="1.5" stroke-linecap="butt"/>
<line x1="104.72" y1="903.70" x2="104.72" y2="907.10" stroke="#222" stroke-width="1.5" stroke-linecap="butt"/>
<text x="85.10" y="907.62" font-size="21.5" text-anchor="middle" stroke="#000" stroke-width="0.5">*</text>
<text x="94.65" y="907.62" font-size="21.5" text-anchor="middle" stroke="#000" stroke-width="0.5">*</text>
<text x="104.20" y="907.62" font-size="21.5" text-anchor="middle" stroke="#000" stroke-width="0.5">*</text>
<line x1="124.88" y1="997.30" x2="145.03" y2="997.30" stroke="#6a6a6a" stroke-width="1.6" stroke-linecap="butt"/>
<line x1="124.88" y1="996.50" x2="124.88" y2="999.90" stroke="#222" stroke-width="1.5" stroke-linecap="butt"/>
<line x1="145.03" y1="996.50" x2="145.03" y2="999.90" stroke="#222" stroke-width="1.5" stroke-linecap="butt"/>
<text x="125.40" y="1000.42" font-size="21.5" text-anchor="middle" stroke="#000" stroke-width="0.5">*</text>
<text x="134.95" y="1000.42" font-size="21.5" text-anchor="middle" stroke="#000" stroke-width="0.5">*</text>
<text x="144.50" y="1000.42" font-size="21.5" text-anchor="middle" stroke="#000" stroke-width="0.5">*</text>
<line x1="185.24" y1="842.60" x2="205.39" y2="842.60" stroke="#6a6a6a" stroke-width="1.6" stroke-linecap="butt"/>
<line x1="185.24" y1="841.80" x2="185.24" y2="845.20" stroke="#222" stroke-width="1.5" stroke-linecap="butt"/>
<line x1="205.39" y1="841.80" x2="205.39" y2="845.20" stroke="#222" stroke-width="1.5" stroke-linecap="butt"/>
<text x="185.77" y="845.73" font-size="21.5" text-anchor="middle" stroke="#000" stroke-width="0.5">*</text>
<text x="195.32" y="845.73" font-size="21.5" text-anchor="middle" stroke="#000" stroke-width="0.5">*</text>
<text x="204.87" y="845.73" font-size="21.5" text-anchor="middle" stroke="#000" stroke-width="0.5">*</text>
<line x1="225.54" y1="990.50" x2="245.69" y2="990.50" stroke="#6a6a6a" stroke-width="1.6" stroke-linecap="butt"/>
<line x1="225.54" y1="989.70" x2="225.54" y2="993.10" stroke="#222" stroke-width="1.5" stroke-linecap="butt"/>
<line x1="245.69" y1="989.70" x2="245.69" y2="993.10" stroke="#222" stroke-width="1.5" stroke-linecap="butt"/>
<text x="226.07" y="993.62" font-size="21.5" text-anchor="middle" stroke="#000" stroke-width="0.5">*</text>
<text x="235.62" y="993.62" font-size="21.5" text-anchor="middle" stroke="#000" stroke-width="0.5">*</text>
<text x="245.17" y="993.62" font-size="21.5" text-anchor="middle" stroke="#000" stroke-width="0.5">*</text>
<line x1="285.92" y1="916.00" x2="306.07" y2="916.00" stroke="#6a6a6a" stroke-width="1.6" stroke-linecap="butt"/>
<line x1="285.92" y1="915.20" x2="285.92" y2="918.60" stroke="#222" stroke-width="1.5" stroke-linecap="butt"/>
<line x1="306.07" y1="915.20" x2="306.07" y2="918.60" stroke="#222" stroke-width="1.5" stroke-linecap="butt"/>
<text x="286.44" y="919.12" font-size="21.5" text-anchor="middle" stroke="#000" stroke-width="0.5">*</text>
<text x="295.99" y="919.12" font-size="21.5" text-anchor="middle" stroke="#000" stroke-width="0.5">*</text>
<text x="305.54" y="919.12" font-size="21.5" text-anchor="middle" stroke="#000" stroke-width="0.5">*</text>
<line x1="326.22" y1="982.30" x2="346.37" y2="982.30" stroke="#6a6a6a" stroke-width="1.6" stroke-linecap="butt"/>
<line x1="326.22" y1="981.50" x2="326.22" y2="984.90" stroke="#222" stroke-width="1.5" stroke-linecap="butt"/>
<line x1="346.37" y1="981.50" x2="346.37" y2="984.90" stroke="#222" stroke-width="1.5" stroke-linecap="butt"/>
<text x="326.74" y="985.42" font-size="21.5" text-anchor="middle" stroke="#000" stroke-width="0.5">*</text>
<text x="336.29" y="985.42" font-size="21.5" text-anchor="middle" stroke="#000" stroke-width="0.5">*</text>
<text x="345.84" y="985.42" font-size="21.5" text-anchor="middle" stroke="#000" stroke-width="0.5">*</text>
<line x1="386.58" y1="883.00" x2="406.74" y2="883.00" stroke="#6a6a6a" stroke-width="1.6" stroke-linecap="butt"/>
<line x1="386.58" y1="882.20" x2="386.58" y2="885.60" stroke="#222" stroke-width="1.5" stroke-linecap="butt"/>
<line x1="406.74" y1="882.20" x2="406.74" y2="885.60" stroke="#222" stroke-width="1.5" stroke-linecap="butt"/>
<text x="387.11" y="886.12" font-size="21.5" text-anchor="middle" stroke="#000" stroke-width="0.5">*</text>
<text x="396.66" y="886.12" font-size="21.5" text-anchor="middle" stroke="#000" stroke-width="0.5">*</text>
<text x="406.21" y="886.12" font-size="21.5" text-anchor="middle" stroke="#000" stroke-width="0.5">*</text>
<line x1="426.88" y1="964.60" x2="447.03" y2="964.60" stroke="#6a6a6a" stroke-width="1.6" stroke-linecap="butt"/>
<line x1="426.88" y1="963.80" x2="426.88" y2="967.20" stroke="#222" stroke-width="1.5" stroke-linecap="butt"/>
<line x1="447.03" y1="963.80" x2="447.03" y2="967.20" stroke="#222" stroke-width="1.5" stroke-linecap="butt"/>
<text x="427.41" y="967.73" font-size="21.5" text-anchor="middle" stroke="#000" stroke-width="0.5">*</text>
<text x="436.96" y="967.73" font-size="21.5" text-anchor="middle" stroke="#000" stroke-width="0.5">*</text>
<text x="446.51" y="967.73" font-size="21.5" text-anchor="middle" stroke="#000" stroke-width="0.5">*</text>
<text transform="translate(183.33 796.98) scale(1.0333 1)" font-size="22.61" stroke="#000" stroke-width="0.38">HCT116/regR</text>
<text transform="translate(29.80 1070.55) scale(1.1008 1) rotate(-90)" font-size="25.61" stroke="#000" stroke-width="0.38">Relative mRNA level</text>
<line x1="571.70" y1="818.55" x2="571.70" y2="1088.95" stroke="#000" stroke-width="2.5" stroke-linecap="butt"/>
<line x1="563.20" y1="1087.70" x2="571.70" y2="1087.70" stroke="#000" stroke-width="2.5" stroke-linecap="butt"/>
<text x="560.90" y="1096.40" font-size="24.3" text-anchor="end" font-weight="bold">0</text>
<line x1="563.20" y1="998.40" x2="571.70" y2="998.40" stroke="#000" stroke-width="2.5" stroke-linecap="butt"/>
<text x="560.90" y="1007.10" font-size="24.3" text-anchor="end" font-weight="bold">1</text>
<line x1="563.20" y1="909.10" x2="571.70" y2="909.10" stroke="#000" stroke-width="2.5" stroke-linecap="butt"/>
<text x="560.90" y="917.80" font-size="24.3" text-anchor="end" font-weight="bold">2</text>
<line x1="563.20" y1="819.80" x2="571.70" y2="819.80" stroke="#000" stroke-width="2.5" stroke-linecap="butt"/>
<text x="560.90" y="828.50" font-size="24.3" text-anchor="end" font-weight="bold">3</text>
<line x1="564.00" y1="1087.70" x2="975.00" y2="1087.70" stroke="#000" stroke-width="2.5" stroke-linecap="butt"/>
<line x1="622.10" y1="1087.70" x2="622.10" y2="1096.20" stroke="#000" stroke-width="2.5" stroke-linecap="butt"/>
<text x="623.05" y="1116.10" font-size="21.1" text-anchor="middle" stroke="#000" stroke-width="0.38">MYC</text>
<rect x="580.40" y="998.40" width="22.45" height="89.30" fill="#ff0000"/>
<line x1="591.62" y1="998.40" x2="591.62" y2="993.31" stroke="#ff0000" stroke-width="2.6" stroke-linecap="butt"/>
<line x1="585.62" y1="993.31" x2="597.62" y2="993.31" stroke="#ff0000" stroke-width="2.6" stroke-linecap="round"/>
<rect x="600.55" y="858.20" width="22.45" height="229.50" fill="#0000c0"/>
<line x1="611.77" y1="858.20" x2="611.77" y2="848.38" stroke="#0000c0" stroke-width="2.6" stroke-linecap="butt"/>
<line x1="605.77" y1="848.38" x2="617.77" y2="848.38" stroke="#0000c0" stroke-width="2.6" stroke-linecap="round"/>
<rect x="620.70" y="1047.07" width="22.45" height="40.63" fill="#00c000"/>
<line x1="631.92" y1="1047.07" x2="631.92" y2="1042.60" stroke="#00c000" stroke-width="2.6" stroke-linecap="butt"/>
<line x1="625.92" y1="1042.60" x2="637.92" y2="1042.60" stroke="#00c000" stroke-width="2.6" stroke-linecap="round"/>
<rect x="640.85" y="1004.65" width="22.45" height="83.05" fill="#c0c000"/>
<line x1="652.08" y1="1004.65" x2="652.08" y2="999.74" stroke="#c0c000" stroke-width="2.6" stroke-linecap="butt"/>
<line x1="646.08" y1="999.74" x2="658.08" y2="999.74" stroke="#c0c000" stroke-width="2.6" stroke-linecap="round"/>
<line x1="722.57" y1="1087.70" x2="722.57" y2="1096.20" stroke="#000" stroke-width="2.5" stroke-linecap="butt"/>
<text x="723.32" y="1116.10" font-size="21.1" text-anchor="middle" stroke="#000" stroke-width="0.38">CCND1</text>
<rect x="680.87" y="998.40" width="22.45" height="89.30" fill="#ff0000"/>
<line x1="692.10" y1="998.40" x2="692.10" y2="993.04" stroke="#ff0000" stroke-width="2.6" stroke-linecap="butt"/>
<line x1="686.10" y1="993.04" x2="698.10" y2="993.04" stroke="#ff0000" stroke-width="2.6" stroke-linecap="round"/>
<rect x="701.02" y="884.10" width="22.45" height="203.60" fill="#0000c0"/>
<line x1="712.24" y1="884.10" x2="712.24" y2="876.06" stroke="#0000c0" stroke-width="2.6" stroke-linecap="butt"/>
<line x1="706.24" y1="876.06" x2="718.24" y2="876.06" stroke="#0000c0" stroke-width="2.6" stroke-linecap="round"/>
<rect x="721.17" y="1057.61" width="22.45" height="30.09" fill="#00c000"/>
<line x1="732.39" y1="1057.61" x2="732.39" y2="1052.87" stroke="#00c000" stroke-width="2.6" stroke-linecap="butt"/>
<line x1="726.39" y1="1052.87" x2="738.39" y2="1052.87" stroke="#00c000" stroke-width="2.6" stroke-linecap="round"/>
<rect x="741.32" y="975.18" width="22.45" height="112.52" fill="#c0c000"/>
<line x1="752.55" y1="975.18" x2="752.55" y2="969.82" stroke="#c0c000" stroke-width="2.6" stroke-linecap="butt"/>
<line x1="746.55" y1="969.82" x2="758.55" y2="969.82" stroke="#c0c000" stroke-width="2.6" stroke-linecap="round"/>
<line x1="823.04" y1="1087.70" x2="823.04" y2="1096.20" stroke="#000" stroke-width="2.5" stroke-linecap="butt"/>
<text x="828.44" y="1116.10" font-size="21.1" text-anchor="middle" stroke="#000" stroke-width="0.38">CD44</text>
<rect x="781.34" y="998.40" width="22.45" height="89.30" fill="#ff0000"/>
<line x1="792.56" y1="998.40" x2="792.56" y2="995.72" stroke="#ff0000" stroke-width="2.6" stroke-linecap="butt"/>
<line x1="786.56" y1="995.72" x2="798.56" y2="995.72" stroke="#ff0000" stroke-width="2.6" stroke-linecap="round"/>
<rect x="801.49" y="907.31" width="22.45" height="180.39" fill="#0000c0"/>
<line x1="812.71" y1="907.31" x2="812.71" y2="901.96" stroke="#0000c0" stroke-width="2.6" stroke-linecap="butt"/>
<line x1="806.71" y1="901.96" x2="818.71" y2="901.96" stroke="#0000c0" stroke-width="2.6" stroke-linecap="round"/>
<rect x="821.64" y="1038.59" width="22.45" height="49.12" fill="#00c000"/>
<line x1="832.86" y1="1038.59" x2="832.86" y2="1034.57" stroke="#00c000" stroke-width="2.6" stroke-linecap="butt"/>
<line x1="826.86" y1="1034.57" x2="838.86" y2="1034.57" stroke="#00c000" stroke-width="2.6" stroke-linecap="round"/>
<rect x="841.79" y="1010.01" width="22.45" height="77.69" fill="#c0c000"/>
<line x1="853.01" y1="1010.01" x2="853.01" y2="1005.54" stroke="#c0c000" stroke-width="2.6" stroke-linecap="butt"/>
<line x1="847.01" y1="1005.54" x2="859.01" y2="1005.54" stroke="#c0c000" stroke-width="2.6" stroke-linecap="round"/>
<line x1="923.51" y1="1087.70" x2="923.51" y2="1096.20" stroke="#000" stroke-width="2.5" stroke-linecap="butt"/>
<text x="927.16" y="1116.10" font-size="21.1" text-anchor="middle" stroke="#000" stroke-width="0.38">MMP7</text>
<rect x="881.81" y="998.40" width="22.45" height="89.30" fill="#ff0000"/>
<line x1="893.03" y1="998.40" x2="893.03" y2="992.42" stroke="#ff0000" stroke-width="2.6" stroke-linecap="butt"/>
<line x1="887.03" y1="992.42" x2="899.03" y2="992.42" stroke="#ff0000" stroke-width="2.6" stroke-linecap="round"/>
<rect x="901.96" y="925.17" width="22.45" height="162.53" fill="#0000c0"/>
<line x1="913.18" y1="925.17" x2="913.18" y2="921.07" stroke="#0000c0" stroke-width="2.6" stroke-linecap="butt"/>
<line x1="907.18" y1="921.07" x2="919.18" y2="921.07" stroke="#0000c0" stroke-width="2.6" stroke-linecap="round"/>
<rect x="922.11" y="1061.80" width="22.45" height="25.90" fill="#00c000"/>
<line x1="933.33" y1="1061.80" x2="933.33" y2="1058.77" stroke="#00c000" stroke-width="2.6" stroke-linecap="butt"/>
<line x1="927.33" y1="1058.77" x2="939.33" y2="1058.77" stroke="#00c000" stroke-width="2.6" stroke-linecap="round"/>
<rect x="942.26" y="993.04" width="22.45" height="94.66" fill="#c0c000"/>
<line x1="953.48" y1="993.04" x2="953.48" y2="989.47" stroke="#c0c000" stroke-width="2.6" stroke-linecap="butt"/>
<line x1="947.48" y1="989.47" x2="959.48" y2="989.47" stroke="#c0c000" stroke-width="2.6" stroke-linecap="round"/>
<line x1="592.08" y1="841.70" x2="612.23" y2="841.70" stroke="#6a6a6a" stroke-width="1.6" stroke-linecap="butt"/>
<line x1="592.08" y1="840.90" x2="592.08" y2="844.30" stroke="#222" stroke-width="1.5" stroke-linecap="butt"/>
<line x1="612.23" y1="840.90" x2="612.23" y2="844.30" stroke="#222" stroke-width="1.5" stroke-linecap="butt"/>
<text x="592.60" y="844.83" font-size="21.5" text-anchor="middle" stroke="#000" stroke-width="0.5">*</text>
<text x="602.15" y="844.83" font-size="21.5" text-anchor="middle" stroke="#000" stroke-width="0.5">*</text>
<text x="611.70" y="844.83" font-size="21.5" text-anchor="middle" stroke="#000" stroke-width="0.5">*</text>
<line x1="632.38" y1="993.50" x2="652.52" y2="993.50" stroke="#6a6a6a" stroke-width="1.6" stroke-linecap="butt"/>
<line x1="632.38" y1="992.70" x2="632.38" y2="996.10" stroke="#222" stroke-width="1.5" stroke-linecap="butt"/>
<line x1="652.52" y1="992.70" x2="652.52" y2="996.10" stroke="#222" stroke-width="1.5" stroke-linecap="butt"/>
<text x="637.68" y="996.62" font-size="21.5" text-anchor="middle" stroke="#000" stroke-width="0.5">*</text>
<text x="647.23" y="996.62" font-size="21.5" text-anchor="middle" stroke="#000" stroke-width="0.5">*</text>
<line x1="692.55" y1="867.40" x2="712.70" y2="867.40" stroke="#6a6a6a" stroke-width="1.6" stroke-linecap="butt"/>
<line x1="692.55" y1="866.60" x2="692.55" y2="870.00" stroke="#222" stroke-width="1.5" stroke-linecap="butt"/>
<line x1="712.70" y1="866.60" x2="712.70" y2="870.00" stroke="#222" stroke-width="1.5" stroke-linecap="butt"/>
<text x="693.07" y="870.52" font-size="21.5" text-anchor="middle" stroke="#000" stroke-width="0.5">*</text>
<text x="702.62" y="870.52" font-size="21.5" text-anchor="middle" stroke="#000" stroke-width="0.5">*</text>
<text x="712.17" y="870.52" font-size="21.5" text-anchor="middle" stroke="#000" stroke-width="0.5">*</text>
<line x1="732.85" y1="964.60" x2="753.00" y2="964.60" stroke="#6a6a6a" stroke-width="1.6" stroke-linecap="butt"/>
<line x1="732.85" y1="963.80" x2="732.85" y2="967.20" stroke="#222" stroke-width="1.5" stroke-linecap="butt"/>
<line x1="753.00" y1="963.80" x2="753.00" y2="967.20" stroke="#222" stroke-width="1.5" stroke-linecap="butt"/>
<text x="738.15" y="967.73" font-size="21.5" text-anchor="middle" stroke="#000" stroke-width="0.5">*</text>
<text x="747.70" y="967.73" font-size="21.5" text-anchor="middle" stroke="#000" stroke-width="0.5">*</text>
<line x1="793.01" y1="895.40" x2="813.16" y2="895.40" stroke="#6a6a6a" stroke-width="1.6" stroke-linecap="butt"/>
<line x1="793.01" y1="894.60" x2="793.01" y2="898.00" stroke="#222" stroke-width="1.5" stroke-linecap="butt"/>
<line x1="813.16" y1="894.60" x2="813.16" y2="898.00" stroke="#222" stroke-width="1.5" stroke-linecap="butt"/>
<text x="793.54" y="898.52" font-size="21.5" text-anchor="middle" stroke="#000" stroke-width="0.5">*</text>
<text x="803.09" y="898.52" font-size="21.5" text-anchor="middle" stroke="#000" stroke-width="0.5">*</text>
<text x="812.64" y="898.52" font-size="21.5" text-anchor="middle" stroke="#000" stroke-width="0.5">*</text>
<line x1="833.31" y1="1000.00" x2="853.46" y2="1000.00" stroke="#6a6a6a" stroke-width="1.6" stroke-linecap="butt"/>
<line x1="833.31" y1="999.20" x2="833.31" y2="1002.60" stroke="#222" stroke-width="1.5" stroke-linecap="butt"/>
<line x1="853.46" y1="999.20" x2="853.46" y2="1002.60" stroke="#222" stroke-width="1.5" stroke-linecap="butt"/>
<text x="838.61" y="1003.12" font-size="21.5" text-anchor="middle" stroke="#000" stroke-width="0.5">*</text>
<text x="848.16" y="1003.12" font-size="21.5" text-anchor="middle" stroke="#000" stroke-width="0.5">*</text>
<line x1="893.49" y1="914.50" x2="913.63" y2="914.50" stroke="#6a6a6a" stroke-width="1.6" stroke-linecap="butt"/>
<line x1="893.49" y1="913.70" x2="893.49" y2="917.10" stroke="#222" stroke-width="1.5" stroke-linecap="butt"/>
<line x1="913.63" y1="913.70" x2="913.63" y2="917.10" stroke="#222" stroke-width="1.5" stroke-linecap="butt"/>
<text x="894.01" y="917.62" font-size="21.5" text-anchor="middle" stroke="#000" stroke-width="0.5">*</text>
<text x="903.56" y="917.62" font-size="21.5" text-anchor="middle" stroke="#000" stroke-width="0.5">*</text>
<text x="913.11" y="917.62" font-size="21.5" text-anchor="middle" stroke="#000" stroke-width="0.5">*</text>
<line x1="933.78" y1="983.20" x2="953.93" y2="983.20" stroke="#6a6a6a" stroke-width="1.6" stroke-linecap="butt"/>
<line x1="933.78" y1="982.40" x2="933.78" y2="985.80" stroke="#222" stroke-width="1.5" stroke-linecap="butt"/>
<line x1="953.93" y1="982.40" x2="953.93" y2="985.80" stroke="#222" stroke-width="1.5" stroke-linecap="butt"/>
<text x="934.31" y="986.33" font-size="21.5" text-anchor="middle" stroke="#000" stroke-width="0.5">*</text>
<text x="943.86" y="986.33" font-size="21.5" text-anchor="middle" stroke="#000" stroke-width="0.5">*</text>
<text x="953.41" y="986.33" font-size="21.5" text-anchor="middle" stroke="#000" stroke-width="0.5">*</text>
<text transform="translate(724.04 797.05) scale(0.9932 1)" font-size="23.26" stroke="#000" stroke-width="0.38">SW480/regR</text>
<text transform="translate(536.50 1072.25) scale(1.1062 1) rotate(-90)" font-size="25.61" stroke="#000" stroke-width="0.38">Relative mRNA level</text>
<line x1="1076.50" y1="816.75" x2="1076.50" y2="1086.95" stroke="#000" stroke-width="2.5" stroke-linecap="butt"/>
<line x1="1068.00" y1="1085.70" x2="1076.50" y2="1085.70" stroke="#000" stroke-width="2.5" stroke-linecap="butt"/>
<text x="1065.70" y="1094.40" font-size="24.3" text-anchor="end" font-weight="bold">0</text>
<line x1="1068.00" y1="996.47" x2="1076.50" y2="996.47" stroke="#000" stroke-width="2.5" stroke-linecap="butt"/>
<text x="1065.70" y="1005.17" font-size="24.3" text-anchor="end" font-weight="bold">1</text>
<line x1="1068.00" y1="907.23" x2="1076.50" y2="907.23" stroke="#000" stroke-width="2.5" stroke-linecap="butt"/>
<text x="1065.70" y="915.93" font-size="24.3" text-anchor="end" font-weight="bold">2</text>
<line x1="1068.00" y1="818.00" x2="1076.50" y2="818.00" stroke="#000" stroke-width="2.5" stroke-linecap="butt"/>
<text x="1065.70" y="826.70" font-size="24.3" text-anchor="end" font-weight="bold">3</text>
<line x1="1068.00" y1="1085.70" x2="1480.30" y2="1085.70" stroke="#000" stroke-width="2.5" stroke-linecap="butt"/>
<line x1="1126.60" y1="1085.70" x2="1126.60" y2="1094.20" stroke="#000" stroke-width="2.5" stroke-linecap="butt"/>
<text x="1129.50" y="1114.10" font-size="21.1" text-anchor="middle" stroke="#000" stroke-width="0.38">MYC</text>
<rect x="1085.30" y="996.47" width="22.43" height="89.23" fill="#ff0000"/>
<line x1="1096.51" y1="996.47" x2="1096.51" y2="993.34" stroke="#ff0000" stroke-width="2.6" stroke-linecap="butt"/>
<line x1="1090.51" y1="993.34" x2="1102.51" y2="993.34" stroke="#ff0000" stroke-width="2.6" stroke-linecap="round"/>
<rect x="1105.43" y="1024.58" width="22.43" height="61.12" fill="#0000c0"/>
<line x1="1116.64" y1="1024.58" x2="1116.64" y2="1021.01" stroke="#0000c0" stroke-width="2.6" stroke-linecap="butt"/>
<line x1="1110.64" y1="1021.01" x2="1122.64" y2="1021.01" stroke="#0000c0" stroke-width="2.6" stroke-linecap="round"/>
<rect x="1125.56" y="885.82" width="22.43" height="199.88" fill="#00c000"/>
<line x1="1136.78" y1="885.82" x2="1136.78" y2="879.12" stroke="#00c000" stroke-width="2.6" stroke-linecap="butt"/>
<line x1="1130.78" y1="879.12" x2="1142.78" y2="879.12" stroke="#00c000" stroke-width="2.6" stroke-linecap="round"/>
<rect x="1145.69" y="975.05" width="22.43" height="110.65" fill="#c0c000"/>
<line x1="1156.90" y1="975.05" x2="1156.90" y2="968.80" stroke="#c0c000" stroke-width="2.6" stroke-linecap="butt"/>
<line x1="1150.90" y1="968.80" x2="1162.90" y2="968.80" stroke="#c0c000" stroke-width="2.6" stroke-linecap="round"/>
<line x1="1226.77" y1="1085.70" x2="1226.77" y2="1094.20" stroke="#000" stroke-width="2.5" stroke-linecap="butt"/>
<text x="1229.57" y="1114.10" font-size="21.1" text-anchor="middle" stroke="#000" stroke-width="0.38">CCND1</text>
<rect x="1185.47" y="996.47" width="22.43" height="89.23" fill="#ff0000"/>
<line x1="1196.68" y1="996.47" x2="1196.68" y2="991.11" stroke="#ff0000" stroke-width="2.6" stroke-linecap="butt"/>
<line x1="1190.68" y1="991.11" x2="1202.68" y2="991.11" stroke="#ff0000" stroke-width="2.6" stroke-linecap="round"/>
<rect x="1205.60" y="1015.21" width="22.43" height="70.49" fill="#0000c0"/>
<line x1="1216.82" y1="1015.21" x2="1216.82" y2="1010.74" stroke="#0000c0" stroke-width="2.6" stroke-linecap="butt"/>
<line x1="1210.82" y1="1010.74" x2="1222.82" y2="1010.74" stroke="#0000c0" stroke-width="2.6" stroke-linecap="round"/>
<rect x="1225.73" y="901.88" width="22.43" height="183.82" fill="#00c000"/>
<line x1="1236.95" y1="901.88" x2="1236.95" y2="894.74" stroke="#00c000" stroke-width="2.6" stroke-linecap="butt"/>
<line x1="1230.95" y1="894.74" x2="1242.95" y2="894.74" stroke="#00c000" stroke-width="2.6" stroke-linecap="round"/>
<rect x="1245.86" y="988.44" width="22.43" height="97.26" fill="#c0c000"/>
<line x1="1257.08" y1="988.44" x2="1257.08" y2="983.35" stroke="#c0c000" stroke-width="2.6" stroke-linecap="butt"/>
<line x1="1251.08" y1="983.35" x2="1263.08" y2="983.35" stroke="#c0c000" stroke-width="2.6" stroke-linecap="round"/>
<line x1="1326.94" y1="1085.70" x2="1326.94" y2="1094.20" stroke="#000" stroke-width="2.5" stroke-linecap="butt"/>
<text x="1328.64" y="1114.10" font-size="21.1" text-anchor="middle" stroke="#000" stroke-width="0.38">CD44</text>
<rect x="1285.64" y="996.47" width="22.43" height="89.23" fill="#ff0000"/>
<line x1="1296.86" y1="996.47" x2="1296.86" y2="993.34" stroke="#ff0000" stroke-width="2.6" stroke-linecap="butt"/>
<line x1="1290.86" y1="993.34" x2="1302.86" y2="993.34" stroke="#ff0000" stroke-width="2.6" stroke-linecap="round"/>
<rect x="1305.77" y="1028.14" width="22.43" height="57.56" fill="#0000c0"/>
<line x1="1316.98" y1="1028.14" x2="1316.98" y2="1025.91" stroke="#0000c0" stroke-width="2.6" stroke-linecap="butt"/>
<line x1="1310.98" y1="1025.91" x2="1322.98" y2="1025.91" stroke="#0000c0" stroke-width="2.6" stroke-linecap="round"/>
<rect x="1325.90" y="937.57" width="22.43" height="148.13" fill="#00c000"/>
<line x1="1337.11" y1="937.57" x2="1337.11" y2="934.00" stroke="#00c000" stroke-width="2.6" stroke-linecap="butt"/>
<line x1="1331.11" y1="934.00" x2="1343.11" y2="934.00" stroke="#00c000" stroke-width="2.6" stroke-linecap="round"/>
<rect x="1346.03" y="994.68" width="22.43" height="91.02" fill="#c0c000"/>
<line x1="1357.24" y1="994.68" x2="1357.24" y2="991.11" stroke="#c0c000" stroke-width="2.6" stroke-linecap="butt"/>
<line x1="1351.24" y1="991.11" x2="1363.24" y2="991.11" stroke="#c0c000" stroke-width="2.6" stroke-linecap="round"/>
<line x1="1427.11" y1="1085.70" x2="1427.11" y2="1094.20" stroke="#000" stroke-width="2.5" stroke-linecap="butt"/>
<text x="1427.11" y="1114.10" font-size="21.1" text-anchor="middle" stroke="#000" stroke-width="0.38">MMP7</text>
<rect x="1385.81" y="996.47" width="22.43" height="89.23" fill="#ff0000"/>
<line x1="1397.03" y1="996.47" x2="1397.03" y2="993.34" stroke="#ff0000" stroke-width="2.6" stroke-linecap="butt"/>
<line x1="1391.03" y1="993.34" x2="1403.03" y2="993.34" stroke="#ff0000" stroke-width="2.6" stroke-linecap="round"/>
<rect x="1405.94" y="1025.02" width="22.43" height="60.68" fill="#0000c0"/>
<line x1="1417.15" y1="1025.02" x2="1417.15" y2="1022.34" stroke="#0000c0" stroke-width="2.6" stroke-linecap="butt"/>
<line x1="1411.15" y1="1022.34" x2="1423.15" y2="1022.34" stroke="#0000c0" stroke-width="2.6" stroke-linecap="round"/>
<rect x="1426.07" y="926.86" width="22.43" height="158.84" fill="#00c000"/>
<line x1="1437.28" y1="926.86" x2="1437.28" y2="923.30" stroke="#00c000" stroke-width="2.6" stroke-linecap="butt"/>
<line x1="1431.28" y1="923.30" x2="1443.28" y2="923.30" stroke="#00c000" stroke-width="2.6" stroke-linecap="round"/>
<rect x="1446.20" y="992.90" width="22.43" height="92.80" fill="#c0c000"/>
<line x1="1457.41" y1="992.90" x2="1457.41" y2="989.77" stroke="#c0c000" stroke-width="2.6" stroke-linecap="butt"/>
<line x1="1451.41" y1="989.77" x2="1463.41" y2="989.77" stroke="#c0c000" stroke-width="2.6" stroke-linecap="round"/>
<line x1="1096.96" y1="984.00" x2="1117.09" y2="984.00" stroke="#6a6a6a" stroke-width="1.6" stroke-linecap="butt"/>
<line x1="1096.96" y1="983.20" x2="1096.96" y2="986.60" stroke="#222" stroke-width="1.5" stroke-linecap="butt"/>
<line x1="1117.09" y1="983.20" x2="1117.09" y2="986.60" stroke="#222" stroke-width="1.5" stroke-linecap="butt"/>
<text x="1102.25" y="987.12" font-size="21.5" text-anchor="middle" stroke="#000" stroke-width="0.5">*</text>
<text x="1111.80" y="987.12" font-size="21.5" text-anchor="middle" stroke="#000" stroke-width="0.5">*</text>
<line x1="1137.22" y1="871.80" x2="1157.35" y2="871.80" stroke="#6a6a6a" stroke-width="1.6" stroke-linecap="butt"/>
<line x1="1137.22" y1="871.00" x2="1137.22" y2="874.40" stroke="#222" stroke-width="1.5" stroke-linecap="butt"/>
<line x1="1157.35" y1="871.00" x2="1157.35" y2="874.40" stroke="#222" stroke-width="1.5" stroke-linecap="butt"/>
<text x="1137.74" y="874.92" font-size="21.5" text-anchor="middle" stroke="#000" stroke-width="0.5">*</text>
<text x="1147.29" y="874.92" font-size="21.5" text-anchor="middle" stroke="#000" stroke-width="0.5">*</text>
<text x="1156.84" y="874.92" font-size="21.5" text-anchor="middle" stroke="#000" stroke-width="0.5">*</text>
<line x1="1197.13" y1="983.20" x2="1217.26" y2="983.20" stroke="#6a6a6a" stroke-width="1.6" stroke-linecap="butt"/>
<line x1="1197.13" y1="982.40" x2="1197.13" y2="985.80" stroke="#222" stroke-width="1.5" stroke-linecap="butt"/>
<line x1="1217.26" y1="982.40" x2="1217.26" y2="985.80" stroke="#222" stroke-width="1.5" stroke-linecap="butt"/>
<text x="1207.20" y="986.33" font-size="21.5" text-anchor="middle" stroke="#000" stroke-width="0.5">*</text>
<line x1="1237.39" y1="887.40" x2="1257.52" y2="887.40" stroke="#6a6a6a" stroke-width="1.6" stroke-linecap="butt"/>
<line x1="1237.39" y1="886.60" x2="1237.39" y2="890.00" stroke="#222" stroke-width="1.5" stroke-linecap="butt"/>
<line x1="1257.52" y1="886.60" x2="1257.52" y2="890.00" stroke="#222" stroke-width="1.5" stroke-linecap="butt"/>
<text x="1237.91" y="890.52" font-size="21.5" text-anchor="middle" stroke="#000" stroke-width="0.5">*</text>
<text x="1247.46" y="890.52" font-size="21.5" text-anchor="middle" stroke="#000" stroke-width="0.5">*</text>
<text x="1257.01" y="890.52" font-size="21.5" text-anchor="middle" stroke="#000" stroke-width="0.5">*</text>
<line x1="1297.30" y1="984.60" x2="1317.43" y2="984.60" stroke="#6a6a6a" stroke-width="1.6" stroke-linecap="butt"/>
<line x1="1297.30" y1="983.80" x2="1297.30" y2="987.20" stroke="#222" stroke-width="1.5" stroke-linecap="butt"/>
<line x1="1317.43" y1="983.80" x2="1317.43" y2="987.20" stroke="#222" stroke-width="1.5" stroke-linecap="butt"/>
<text x="1302.59" y="987.73" font-size="21.5" text-anchor="middle" stroke="#000" stroke-width="0.5">*</text>
<text x="1312.14" y="987.73" font-size="21.5" text-anchor="middle" stroke="#000" stroke-width="0.5">*</text>
<line x1="1337.56" y1="924.80" x2="1357.69" y2="924.80" stroke="#6a6a6a" stroke-width="1.6" stroke-linecap="butt"/>
<line x1="1337.56" y1="924.00" x2="1337.56" y2="927.40" stroke="#222" stroke-width="1.5" stroke-linecap="butt"/>
<line x1="1357.69" y1="924.00" x2="1357.69" y2="927.40" stroke="#222" stroke-width="1.5" stroke-linecap="butt"/>
<text x="1338.08" y="927.92" font-size="21.5" text-anchor="middle" stroke="#000" stroke-width="0.5">*</text>
<text x="1347.63" y="927.92" font-size="21.5" text-anchor="middle" stroke="#000" stroke-width="0.5">*</text>
<text x="1357.18" y="927.92" font-size="21.5" text-anchor="middle" stroke="#000" stroke-width="0.5">*</text>
<line x1="1397.47" y1="984.60" x2="1417.60" y2="984.60" stroke="#6a6a6a" stroke-width="1.6" stroke-linecap="butt"/>
<line x1="1397.47" y1="983.80" x2="1397.47" y2="987.20" stroke="#222" stroke-width="1.5" stroke-linecap="butt"/>
<line x1="1417.60" y1="983.80" x2="1417.60" y2="987.20" stroke="#222" stroke-width="1.5" stroke-linecap="butt"/>
<text x="1402.76" y="987.73" font-size="21.5" text-anchor="middle" stroke="#000" stroke-width="0.5">*</text>
<text x="1412.32" y="987.73" font-size="21.5" text-anchor="middle" stroke="#000" stroke-width="0.5">*</text>
<line x1="1437.73" y1="915.40" x2="1457.86" y2="915.40" stroke="#6a6a6a" stroke-width="1.6" stroke-linecap="butt"/>
<line x1="1437.73" y1="914.60" x2="1437.73" y2="918.00" stroke="#222" stroke-width="1.5" stroke-linecap="butt"/>
<line x1="1457.86" y1="914.60" x2="1457.86" y2="918.00" stroke="#222" stroke-width="1.5" stroke-linecap="butt"/>
<text x="1438.25" y="918.52" font-size="21.5" text-anchor="middle" stroke="#000" stroke-width="0.5">*</text>
<text x="1447.80" y="918.52" font-size="21.5" text-anchor="middle" stroke="#000" stroke-width="0.5">*</text>
<text x="1457.35" y="918.52" font-size="21.5" text-anchor="middle" stroke="#000" stroke-width="0.5">*</text>
<text transform="translate(1195.13 804.00) scale(0.9827 1)" font-size="27.57" stroke="#000" stroke-width="0.38">HCT116</text>
<text transform="translate(1044.20 1065.55) scale(1.1224 1) rotate(-90)" font-size="25.61" stroke="#000" stroke-width="0.38">Relative mRNA level</text>
<line x1="1574.20" y1="817.75" x2="1574.20" y2="1087.95" stroke="#000" stroke-width="2.5" stroke-linecap="butt"/>
<line x1="1565.70" y1="1086.70" x2="1574.20" y2="1086.70" stroke="#000" stroke-width="2.5" stroke-linecap="butt"/>
<text x="1563.40" y="1095.40" font-size="24.3" text-anchor="end" font-weight="bold">0</text>
<line x1="1565.70" y1="997.47" x2="1574.20" y2="997.47" stroke="#000" stroke-width="2.5" stroke-linecap="butt"/>
<text x="1563.40" y="1006.17" font-size="24.3" text-anchor="end" font-weight="bold">1</text>
<line x1="1565.70" y1="908.23" x2="1574.20" y2="908.23" stroke="#000" stroke-width="2.5" stroke-linecap="butt"/>
<text x="1563.40" y="916.93" font-size="24.3" text-anchor="end" font-weight="bold">2</text>
<line x1="1565.70" y1="819.00" x2="1574.20" y2="819.00" stroke="#000" stroke-width="2.5" stroke-linecap="butt"/>
<text x="1563.40" y="827.70" font-size="24.3" text-anchor="end" font-weight="bold">3</text>
<line x1="1566.00" y1="1086.70" x2="1975.60" y2="1086.70" stroke="#000" stroke-width="2.5" stroke-linecap="butt"/>
<line x1="1624.30" y1="1086.70" x2="1624.30" y2="1095.20" stroke="#000" stroke-width="2.5" stroke-linecap="butt"/>
<text x="1627.15" y="1116.70" font-size="21.1" text-anchor="middle" stroke="#000" stroke-width="0.38">MYC</text>
<rect x="1582.80" y="997.47" width="22.37" height="89.23" fill="#ff0000"/>
<line x1="1593.98" y1="997.47" x2="1593.98" y2="992.11" stroke="#ff0000" stroke-width="2.6" stroke-linecap="butt"/>
<line x1="1587.98" y1="992.11" x2="1599.98" y2="992.11" stroke="#ff0000" stroke-width="2.6" stroke-linecap="round"/>
<rect x="1602.87" y="1020.67" width="22.37" height="66.03" fill="#0000c0"/>
<line x1="1614.05" y1="1020.67" x2="1614.05" y2="1017.99" stroke="#0000c0" stroke-width="2.6" stroke-linecap="butt"/>
<line x1="1608.05" y1="1017.99" x2="1620.05" y2="1017.99" stroke="#0000c0" stroke-width="2.6" stroke-linecap="round"/>
<rect x="1622.94" y="880.57" width="22.37" height="206.13" fill="#00c000"/>
<line x1="1634.12" y1="880.57" x2="1634.12" y2="874.77" stroke="#00c000" stroke-width="2.6" stroke-linecap="butt"/>
<line x1="1628.12" y1="874.77" x2="1640.12" y2="874.77" stroke="#00c000" stroke-width="2.6" stroke-linecap="round"/>
<rect x="1643.01" y="952.85" width="22.37" height="133.85" fill="#c0c000"/>
<line x1="1654.19" y1="952.85" x2="1654.19" y2="949.28" stroke="#c0c000" stroke-width="2.6" stroke-linecap="butt"/>
<line x1="1648.19" y1="949.28" x2="1660.19" y2="949.28" stroke="#c0c000" stroke-width="2.6" stroke-linecap="round"/>
<line x1="1724.70" y1="1086.70" x2="1724.70" y2="1095.20" stroke="#000" stroke-width="2.5" stroke-linecap="butt"/>
<text x="1727.45" y="1116.70" font-size="21.1" text-anchor="middle" stroke="#000" stroke-width="0.38">CCND1</text>
<rect x="1683.20" y="997.47" width="22.37" height="89.23" fill="#ff0000"/>
<line x1="1694.38" y1="997.47" x2="1694.38" y2="993.27" stroke="#ff0000" stroke-width="2.6" stroke-linecap="butt"/>
<line x1="1688.38" y1="993.27" x2="1700.38" y2="993.27" stroke="#ff0000" stroke-width="2.6" stroke-linecap="round"/>
<rect x="1703.27" y="1019.78" width="22.37" height="66.92" fill="#0000c0"/>
<line x1="1714.45" y1="1019.78" x2="1714.45" y2="1017.10" stroke="#0000c0" stroke-width="2.6" stroke-linecap="butt"/>
<line x1="1708.45" y1="1017.10" x2="1720.45" y2="1017.10" stroke="#0000c0" stroke-width="2.6" stroke-linecap="round"/>
<rect x="1723.34" y="868.08" width="22.37" height="218.62" fill="#00c000"/>
<line x1="1734.53" y1="868.08" x2="1734.53" y2="863.62" stroke="#00c000" stroke-width="2.6" stroke-linecap="butt"/>
<line x1="1728.53" y1="863.62" x2="1740.53" y2="863.62" stroke="#00c000" stroke-width="2.6" stroke-linecap="round"/>
<rect x="1743.41" y="938.57" width="22.37" height="148.13" fill="#c0c000"/>
<line x1="1754.60" y1="938.57" x2="1754.60" y2="934.56" stroke="#c0c000" stroke-width="2.6" stroke-linecap="butt"/>
<line x1="1748.60" y1="934.56" x2="1760.60" y2="934.56" stroke="#c0c000" stroke-width="2.6" stroke-linecap="round"/>
<line x1="1825.10" y1="1086.70" x2="1825.10" y2="1095.20" stroke="#000" stroke-width="2.5" stroke-linecap="butt"/>
<text x="1826.50" y="1116.70" font-size="21.1" text-anchor="middle" stroke="#000" stroke-width="0.38">CD44</text>
<rect x="1783.60" y="997.47" width="22.37" height="89.23" fill="#ff0000"/>
<line x1="1794.78" y1="997.47" x2="1794.78" y2="994.17" stroke="#ff0000" stroke-width="2.6" stroke-linecap="butt"/>
<line x1="1788.78" y1="994.17" x2="1800.78" y2="994.17" stroke="#ff0000" stroke-width="2.6" stroke-linecap="round"/>
<rect x="1803.67" y="1034.50" width="22.37" height="52.20" fill="#0000c0"/>
<line x1="1814.86" y1="1034.50" x2="1814.86" y2="1031.38" stroke="#0000c0" stroke-width="2.6" stroke-linecap="butt"/>
<line x1="1808.86" y1="1031.38" x2="1820.86" y2="1031.38" stroke="#0000c0" stroke-width="2.6" stroke-linecap="round"/>
<rect x="1823.74" y="939.91" width="22.37" height="146.79" fill="#00c000"/>
<line x1="1834.92" y1="939.91" x2="1834.92" y2="935.90" stroke="#00c000" stroke-width="2.6" stroke-linecap="butt"/>
<line x1="1828.92" y1="935.90" x2="1840.92" y2="935.90" stroke="#00c000" stroke-width="2.6" stroke-linecap="round"/>
<rect x="1843.81" y="970.70" width="22.37" height="116.00" fill="#c0c000"/>
<line x1="1854.99" y1="970.70" x2="1854.99" y2="967.40" stroke="#c0c000" stroke-width="2.6" stroke-linecap="butt"/>
<line x1="1848.99" y1="967.40" x2="1860.99" y2="967.40" stroke="#c0c000" stroke-width="2.6" stroke-linecap="round"/>
<line x1="1925.50" y1="1086.70" x2="1925.50" y2="1095.20" stroke="#000" stroke-width="2.5" stroke-linecap="butt"/>
<text x="1924.95" y="1116.70" font-size="21.1" text-anchor="middle" stroke="#000" stroke-width="0.38">MMP7</text>
<rect x="1884.00" y="997.47" width="22.37" height="89.23" fill="#ff0000"/>
<line x1="1895.18" y1="997.47" x2="1895.18" y2="993.27" stroke="#ff0000" stroke-width="2.6" stroke-linecap="butt"/>
<line x1="1889.18" y1="993.27" x2="1901.18" y2="993.27" stroke="#ff0000" stroke-width="2.6" stroke-linecap="round"/>
<rect x="1904.07" y="1025.13" width="22.37" height="61.57" fill="#0000c0"/>
<line x1="1915.26" y1="1025.13" x2="1915.26" y2="1021.56" stroke="#0000c0" stroke-width="2.6" stroke-linecap="butt"/>
<line x1="1909.26" y1="1021.56" x2="1921.26" y2="1021.56" stroke="#0000c0" stroke-width="2.6" stroke-linecap="round"/>
<rect x="1924.14" y="923.40" width="22.37" height="163.30" fill="#00c000"/>
<line x1="1935.33" y1="923.40" x2="1935.33" y2="918.94" stroke="#00c000" stroke-width="2.6" stroke-linecap="butt"/>
<line x1="1929.33" y1="918.94" x2="1941.33" y2="918.94" stroke="#00c000" stroke-width="2.6" stroke-linecap="round"/>
<rect x="1944.21" y="967.13" width="22.37" height="119.57" fill="#c0c000"/>
<line x1="1955.39" y1="967.13" x2="1955.39" y2="963.56" stroke="#c0c000" stroke-width="2.6" stroke-linecap="butt"/>
<line x1="1949.39" y1="963.56" x2="1961.39" y2="963.56" stroke="#c0c000" stroke-width="2.6" stroke-linecap="round"/>
<line x1="1594.43" y1="985.30" x2="1614.50" y2="985.30" stroke="#6a6a6a" stroke-width="1.6" stroke-linecap="butt"/>
<line x1="1594.43" y1="984.50" x2="1594.43" y2="987.90" stroke="#222" stroke-width="1.5" stroke-linecap="butt"/>
<line x1="1614.50" y1="984.50" x2="1614.50" y2="987.90" stroke="#222" stroke-width="1.5" stroke-linecap="butt"/>
<text x="1604.47" y="988.42" font-size="21.5" text-anchor="middle" stroke="#000" stroke-width="0.5">*</text>
<line x1="1634.57" y1="868.90" x2="1654.64" y2="868.90" stroke="#6a6a6a" stroke-width="1.6" stroke-linecap="butt"/>
<line x1="1634.57" y1="868.10" x2="1634.57" y2="871.50" stroke="#222" stroke-width="1.5" stroke-linecap="butt"/>
<line x1="1654.64" y1="868.10" x2="1654.64" y2="871.50" stroke="#222" stroke-width="1.5" stroke-linecap="butt"/>
<text x="1635.06" y="872.02" font-size="21.5" text-anchor="middle" stroke="#000" stroke-width="0.5">*</text>
<text x="1644.61" y="872.02" font-size="21.5" text-anchor="middle" stroke="#000" stroke-width="0.5">*</text>
<text x="1654.16" y="872.02" font-size="21.5" text-anchor="middle" stroke="#000" stroke-width="0.5">*</text>
<line x1="1694.84" y1="986.70" x2="1714.90" y2="986.70" stroke="#6a6a6a" stroke-width="1.6" stroke-linecap="butt"/>
<line x1="1694.84" y1="985.90" x2="1694.84" y2="989.30" stroke="#222" stroke-width="1.5" stroke-linecap="butt"/>
<line x1="1714.90" y1="985.90" x2="1714.90" y2="989.30" stroke="#222" stroke-width="1.5" stroke-linecap="butt"/>
<text x="1704.87" y="989.83" font-size="21.5" text-anchor="middle" stroke="#000" stroke-width="0.5">*</text>
<line x1="1734.97" y1="857.00" x2="1755.05" y2="857.00" stroke="#6a6a6a" stroke-width="1.6" stroke-linecap="butt"/>
<line x1="1734.97" y1="856.20" x2="1734.97" y2="859.60" stroke="#222" stroke-width="1.5" stroke-linecap="butt"/>
<line x1="1755.05" y1="856.20" x2="1755.05" y2="859.60" stroke="#222" stroke-width="1.5" stroke-linecap="butt"/>
<text x="1735.46" y="860.12" font-size="21.5" text-anchor="middle" stroke="#000" stroke-width="0.5">*</text>
<text x="1745.01" y="860.12" font-size="21.5" text-anchor="middle" stroke="#000" stroke-width="0.5">*</text>
<text x="1754.56" y="860.12" font-size="21.5" text-anchor="middle" stroke="#000" stroke-width="0.5">*</text>
<line x1="1795.23" y1="987.60" x2="1815.30" y2="987.60" stroke="#6a6a6a" stroke-width="1.6" stroke-linecap="butt"/>
<line x1="1795.23" y1="986.80" x2="1795.23" y2="990.20" stroke="#222" stroke-width="1.5" stroke-linecap="butt"/>
<line x1="1815.30" y1="986.80" x2="1815.30" y2="990.20" stroke="#222" stroke-width="1.5" stroke-linecap="butt"/>
<text x="1800.49" y="990.73" font-size="21.5" text-anchor="middle" stroke="#000" stroke-width="0.5">*</text>
<text x="1810.05" y="990.73" font-size="21.5" text-anchor="middle" stroke="#000" stroke-width="0.5">*</text>
<line x1="1835.37" y1="927.70" x2="1855.44" y2="927.70" stroke="#6a6a6a" stroke-width="1.6" stroke-linecap="butt"/>
<line x1="1835.37" y1="926.90" x2="1835.37" y2="930.30" stroke="#222" stroke-width="1.5" stroke-linecap="butt"/>
<line x1="1855.44" y1="926.90" x2="1855.44" y2="930.30" stroke="#222" stroke-width="1.5" stroke-linecap="butt"/>
<text x="1840.63" y="930.83" font-size="21.5" text-anchor="middle" stroke="#000" stroke-width="0.5">*</text>
<text x="1850.18" y="930.83" font-size="21.5" text-anchor="middle" stroke="#000" stroke-width="0.5">*</text>
<line x1="1895.63" y1="987.60" x2="1915.70" y2="987.60" stroke="#6a6a6a" stroke-width="1.6" stroke-linecap="butt"/>
<line x1="1895.63" y1="986.80" x2="1895.63" y2="990.20" stroke="#222" stroke-width="1.5" stroke-linecap="butt"/>
<line x1="1915.70" y1="986.80" x2="1915.70" y2="990.20" stroke="#222" stroke-width="1.5" stroke-linecap="butt"/>
<text x="1900.89" y="990.73" font-size="21.5" text-anchor="middle" stroke="#000" stroke-width="0.5">*</text>
<text x="1910.45" y="990.73" font-size="21.5" text-anchor="middle" stroke="#000" stroke-width="0.5">*</text>
<line x1="1935.77" y1="912.20" x2="1955.84" y2="912.20" stroke="#6a6a6a" stroke-width="1.6" stroke-linecap="butt"/>
<line x1="1935.77" y1="911.40" x2="1935.77" y2="914.80" stroke="#222" stroke-width="1.5" stroke-linecap="butt"/>
<line x1="1955.84" y1="911.40" x2="1955.84" y2="914.80" stroke="#222" stroke-width="1.5" stroke-linecap="butt"/>
<text x="1941.03" y="915.33" font-size="21.5" text-anchor="middle" stroke="#000" stroke-width="0.5">*</text>
<text x="1950.59" y="915.33" font-size="21.5" text-anchor="middle" stroke="#000" stroke-width="0.5">*</text>
<text transform="translate(1740.27 803.90) scale(0.9801 1)" font-size="27.14" stroke="#000" stroke-width="0.38">SW480</text>
<text transform="translate(1541.10 1066.34) scale(1.0888 1) rotate(-90)" font-size="25.51" stroke="#000" stroke-width="0.38">Relative mRNA level</text>
<line x1="60.90" y1="1246.40" x2="60.90" y2="1491.70" stroke="#000" stroke-width="2.6" stroke-linecap="butt"/>
<line x1="53.40" y1="1490.40" x2="60.90" y2="1490.40" stroke="#000" stroke-width="2.6" stroke-linecap="butt"/>
<text x="51.20" y="1497.85" font-size="20.8" text-anchor="end" font-weight="bold">20</text>
<line x1="53.40" y1="1429.73" x2="60.90" y2="1429.73" stroke="#000" stroke-width="2.6" stroke-linecap="butt"/>
<text x="51.20" y="1437.17" font-size="20.8" text-anchor="end" font-weight="bold">40</text>
<line x1="53.40" y1="1369.05" x2="60.90" y2="1369.05" stroke="#000" stroke-width="2.6" stroke-linecap="butt"/>
<text x="51.20" y="1376.50" font-size="20.8" text-anchor="end" font-weight="bold">60</text>
<line x1="53.40" y1="1308.38" x2="60.90" y2="1308.38" stroke="#000" stroke-width="2.6" stroke-linecap="butt"/>
<text x="51.20" y="1315.82" font-size="20.8" text-anchor="end" font-weight="bold">80</text>
<line x1="53.40" y1="1247.70" x2="60.90" y2="1247.70" stroke="#000" stroke-width="2.6" stroke-linecap="butt"/>
<text x="51.20" y="1255.15" font-size="20.8" text-anchor="end" font-weight="bold">100</text>
<line x1="53.40" y1="1490.40" x2="426.50" y2="1490.40" stroke="#000" stroke-width="2.6" stroke-linecap="butt"/>
<line x1="60.90" y1="1490.40" x2="60.90" y2="1497.90" stroke="#000" stroke-width="2.6" stroke-linecap="butt"/>
<text x="61.20" y="1518.70" font-size="20.8" text-anchor="middle" font-weight="bold">0</text>
<line x1="121.70" y1="1490.40" x2="121.70" y2="1497.90" stroke="#000" stroke-width="2.6" stroke-linecap="butt"/>
<text x="122.00" y="1518.70" font-size="20.8" text-anchor="middle" font-weight="bold">1</text>
<line x1="182.30" y1="1490.40" x2="182.30" y2="1497.90" stroke="#000" stroke-width="2.6" stroke-linecap="butt"/>
<text x="182.60" y="1518.70" font-size="20.8" text-anchor="middle" font-weight="bold">5</text>
<line x1="243.00" y1="1490.40" x2="243.00" y2="1497.90" stroke="#000" stroke-width="2.6" stroke-linecap="butt"/>
<text x="243.30" y="1518.70" font-size="20.8" text-anchor="middle" font-weight="bold">10</text>
<line x1="303.80" y1="1490.40" x2="303.80" y2="1497.90" stroke="#000" stroke-width="2.6" stroke-linecap="butt"/>
<text x="304.10" y="1518.70" font-size="20.8" text-anchor="middle" font-weight="bold">20</text>
<line x1="364.50" y1="1490.40" x2="364.50" y2="1497.90" stroke="#000" stroke-width="2.6" stroke-linecap="butt"/>
<text x="364.80" y="1518.70" font-size="20.8" text-anchor="middle" font-weight="bold">40</text>
<line x1="425.20" y1="1490.40" x2="425.20" y2="1497.90" stroke="#000" stroke-width="2.6" stroke-linecap="butt"/>
<text x="425.50" y="1518.70" font-size="20.8" text-anchor="middle" font-weight="bold">60</text>
<path d="M60.90 1247.70 L121.70 1281.37 L182.30 1297.15 L243.00 1322.33 L303.80 1339.62 L364.50 1403.03 L425.20 1436.70" fill="none" stroke="#ff0000" stroke-width="2.7" stroke-linejoin="round"/>
<line x1="121.70" y1="1269.24" x2="121.70" y2="1293.51" stroke="#ff0000" stroke-width="2.8" stroke-linecap="butt"/>
<line x1="117.80" y1="1269.24" x2="125.60" y2="1269.24" stroke="#ff0000" stroke-width="2.4" stroke-linecap="round"/>
<line x1="117.80" y1="1293.51" x2="125.60" y2="1293.51" stroke="#ff0000" stroke-width="2.4" stroke-linecap="round"/>
<line x1="182.30" y1="1286.53" x2="182.30" y2="1307.77" stroke="#ff0000" stroke-width="2.8" stroke-linecap="butt"/>
<line x1="178.40" y1="1286.53" x2="186.20" y2="1286.53" stroke="#ff0000" stroke-width="2.4" stroke-linecap="round"/>
<line x1="178.40" y1="1307.77" x2="186.20" y2="1307.77" stroke="#ff0000" stroke-width="2.4" stroke-linecap="round"/>
<line x1="243.00" y1="1311.71" x2="243.00" y2="1332.95" stroke="#ff0000" stroke-width="2.8" stroke-linecap="butt"/>
<line x1="239.10" y1="1311.71" x2="246.90" y2="1311.71" stroke="#ff0000" stroke-width="2.4" stroke-linecap="round"/>
<line x1="239.10" y1="1332.95" x2="246.90" y2="1332.95" stroke="#ff0000" stroke-width="2.4" stroke-linecap="round"/>
<line x1="303.80" y1="1329.00" x2="303.80" y2="1350.24" stroke="#ff0000" stroke-width="2.8" stroke-linecap="butt"/>
<line x1="299.90" y1="1329.00" x2="307.70" y2="1329.00" stroke="#ff0000" stroke-width="2.4" stroke-linecap="round"/>
<line x1="299.90" y1="1350.24" x2="307.70" y2="1350.24" stroke="#ff0000" stroke-width="2.4" stroke-linecap="round"/>
<line x1="364.50" y1="1387.86" x2="364.50" y2="1418.20" stroke="#ff0000" stroke-width="2.8" stroke-linecap="butt"/>
<line x1="360.60" y1="1387.86" x2="368.40" y2="1387.86" stroke="#ff0000" stroke-width="2.4" stroke-linecap="round"/>
<line x1="360.60" y1="1418.20" x2="368.40" y2="1418.20" stroke="#ff0000" stroke-width="2.4" stroke-linecap="round"/>
<line x1="425.20" y1="1423.05" x2="425.20" y2="1450.35" stroke="#ff0000" stroke-width="2.8" stroke-linecap="butt"/>
<line x1="421.30" y1="1423.05" x2="429.10" y2="1423.05" stroke="#ff0000" stroke-width="2.4" stroke-linecap="round"/>
<line x1="421.30" y1="1450.35" x2="429.10" y2="1450.35" stroke="#ff0000" stroke-width="2.4" stroke-linecap="round"/>
<circle cx="60.90" cy="1247.70" r="3.60" fill="#ff0000"/>
<circle cx="121.70" cy="1281.37" r="3.60" fill="#ff0000"/>
<circle cx="182.30" cy="1297.15" r="3.60" fill="#ff0000"/>
<circle cx="243.00" cy="1322.33" r="3.60" fill="#ff0000"/>
<circle cx="303.80" cy="1339.62" r="3.60" fill="#ff0000"/>
<circle cx="364.50" cy="1403.03" r="3.60" fill="#ff0000"/>
<circle cx="425.20" cy="1436.70" r="3.60" fill="#ff0000"/>
<path d="M60.90 1247.70 L121.70 1267.42 L182.30 1271.67 L243.00 1299.58 L303.80 1315.05 L364.50 1357.52 L425.20 1396.66" fill="none" stroke="#0000c0" stroke-width="2.7" stroke-linejoin="round"/>
<line x1="121.70" y1="1259.84" x2="121.70" y2="1275.00" stroke="#0000c0" stroke-width="2.8" stroke-linecap="butt"/>
<line x1="117.80" y1="1259.84" x2="125.60" y2="1259.84" stroke="#0000c0" stroke-width="2.4" stroke-linecap="round"/>
<line x1="117.80" y1="1275.00" x2="125.60" y2="1275.00" stroke="#0000c0" stroke-width="2.4" stroke-linecap="round"/>
<line x1="182.30" y1="1262.57" x2="182.30" y2="1280.77" stroke="#0000c0" stroke-width="2.8" stroke-linecap="butt"/>
<line x1="178.40" y1="1262.57" x2="186.20" y2="1262.57" stroke="#0000c0" stroke-width="2.4" stroke-linecap="round"/>
<line x1="178.40" y1="1280.77" x2="186.20" y2="1280.77" stroke="#0000c0" stroke-width="2.4" stroke-linecap="round"/>
<line x1="243.00" y1="1290.48" x2="243.00" y2="1308.68" stroke="#0000c0" stroke-width="2.8" stroke-linecap="butt"/>
<line x1="239.10" y1="1290.48" x2="246.90" y2="1290.48" stroke="#0000c0" stroke-width="2.4" stroke-linecap="round"/>
<line x1="239.10" y1="1308.68" x2="246.90" y2="1308.68" stroke="#0000c0" stroke-width="2.4" stroke-linecap="round"/>
<line x1="303.80" y1="1304.43" x2="303.80" y2="1325.67" stroke="#0000c0" stroke-width="2.8" stroke-linecap="butt"/>
<line x1="299.90" y1="1304.43" x2="307.70" y2="1304.43" stroke="#0000c0" stroke-width="2.4" stroke-linecap="round"/>
<line x1="299.90" y1="1325.67" x2="307.70" y2="1325.67" stroke="#0000c0" stroke-width="2.4" stroke-linecap="round"/>
<line x1="364.50" y1="1342.35" x2="364.50" y2="1372.69" stroke="#0000c0" stroke-width="2.8" stroke-linecap="butt"/>
<line x1="360.60" y1="1342.35" x2="368.40" y2="1342.35" stroke="#0000c0" stroke-width="2.4" stroke-linecap="round"/>
<line x1="360.60" y1="1372.69" x2="368.40" y2="1372.69" stroke="#0000c0" stroke-width="2.4" stroke-linecap="round"/>
<line x1="425.20" y1="1381.49" x2="425.20" y2="1411.83" stroke="#0000c0" stroke-width="2.8" stroke-linecap="butt"/>
<line x1="421.30" y1="1381.49" x2="429.10" y2="1381.49" stroke="#0000c0" stroke-width="2.4" stroke-linecap="round"/>
<line x1="421.30" y1="1411.83" x2="429.10" y2="1411.83" stroke="#0000c0" stroke-width="2.4" stroke-linecap="round"/>
<rect x="57.30" y="1244.10" width="7.20" height="7.20" fill="#0000c0"/>
<rect x="118.10" y="1263.82" width="7.20" height="7.20" fill="#0000c0"/>
<rect x="178.70" y="1268.07" width="7.20" height="7.20" fill="#0000c0"/>
<rect x="239.40" y="1295.98" width="7.20" height="7.20" fill="#0000c0"/>
<rect x="300.20" y="1311.45" width="7.20" height="7.20" fill="#0000c0"/>
<rect x="360.90" y="1353.92" width="7.20" height="7.20" fill="#0000c0"/>
<rect x="421.60" y="1393.06" width="7.20" height="7.20" fill="#0000c0"/>
<path d="M60.90 1247.70 L121.70 1324.45 L182.30 1336.59 L243.00 1362.98 L303.80 1413.04 L364.50 1472.20 L425.20 1479.48" fill="none" stroke="#00c000" stroke-width="2.7" stroke-linejoin="round"/>
<line x1="121.70" y1="1310.80" x2="121.70" y2="1338.11" stroke="#00c000" stroke-width="2.8" stroke-linecap="butt"/>
<line x1="117.80" y1="1310.80" x2="125.60" y2="1310.80" stroke="#00c000" stroke-width="2.4" stroke-linecap="round"/>
<line x1="117.80" y1="1338.11" x2="125.60" y2="1338.11" stroke="#00c000" stroke-width="2.4" stroke-linecap="round"/>
<line x1="182.30" y1="1321.42" x2="182.30" y2="1351.76" stroke="#00c000" stroke-width="2.8" stroke-linecap="butt"/>
<line x1="178.40" y1="1321.42" x2="186.20" y2="1321.42" stroke="#00c000" stroke-width="2.4" stroke-linecap="round"/>
<line x1="178.40" y1="1351.76" x2="186.20" y2="1351.76" stroke="#00c000" stroke-width="2.4" stroke-linecap="round"/>
<line x1="243.00" y1="1347.81" x2="243.00" y2="1378.15" stroke="#00c000" stroke-width="2.8" stroke-linecap="butt"/>
<line x1="239.10" y1="1347.81" x2="246.90" y2="1347.81" stroke="#00c000" stroke-width="2.4" stroke-linecap="round"/>
<line x1="239.10" y1="1378.15" x2="246.90" y2="1378.15" stroke="#00c000" stroke-width="2.4" stroke-linecap="round"/>
<line x1="303.80" y1="1402.42" x2="303.80" y2="1423.66" stroke="#00c000" stroke-width="2.8" stroke-linecap="butt"/>
<line x1="299.90" y1="1402.42" x2="307.70" y2="1402.42" stroke="#00c000" stroke-width="2.4" stroke-linecap="round"/>
<line x1="299.90" y1="1423.66" x2="307.70" y2="1423.66" stroke="#00c000" stroke-width="2.4" stroke-linecap="round"/>
<line x1="364.50" y1="1458.55" x2="364.50" y2="1485.85" stroke="#00c000" stroke-width="2.8" stroke-linecap="butt"/>
<line x1="360.60" y1="1458.55" x2="368.40" y2="1458.55" stroke="#00c000" stroke-width="2.4" stroke-linecap="round"/>
<line x1="360.60" y1="1485.85" x2="368.40" y2="1485.85" stroke="#00c000" stroke-width="2.4" stroke-linecap="round"/>
<line x1="425.20" y1="1468.86" x2="425.20" y2="1490.10" stroke="#00c000" stroke-width="2.8" stroke-linecap="butt"/>
<line x1="421.30" y1="1468.86" x2="429.10" y2="1468.86" stroke="#00c000" stroke-width="2.4" stroke-linecap="round"/>
<line x1="421.30" y1="1490.10" x2="429.10" y2="1490.10" stroke="#00c000" stroke-width="2.4" stroke-linecap="round"/>
<path d="M60.90 1243.74L64.86 1250.58L56.94 1250.58Z" fill="#00c000"/>
<path d="M121.70 1320.49L125.66 1327.33L117.74 1327.33Z" fill="#00c000"/>
<path d="M182.30 1332.63L186.26 1339.47L178.34 1339.47Z" fill="#00c000"/>
<path d="M243.00 1359.02L246.96 1365.86L239.04 1365.86Z" fill="#00c000"/>
<path d="M303.80 1409.08L307.76 1415.92L299.84 1415.92Z" fill="#00c000"/>
<path d="M364.50 1468.24L368.46 1475.08L360.54 1475.08Z" fill="#00c000"/>
<path d="M425.20 1475.52L429.16 1482.36L421.24 1482.36Z" fill="#00c000"/>
<path d="M60.90 1247.70 L121.70 1285.32 L182.30 1299.27 L243.00 1330.82 L303.80 1352.36 L364.50 1401.81 L425.20 1430.33" fill="none" stroke="#c0c000" stroke-width="2.7" stroke-linejoin="round"/>
<line x1="121.70" y1="1270.15" x2="121.70" y2="1300.49" stroke="#c0c000" stroke-width="2.8" stroke-linecap="butt"/>
<line x1="117.80" y1="1270.15" x2="125.60" y2="1270.15" stroke="#c0c000" stroke-width="2.4" stroke-linecap="round"/>
<line x1="117.80" y1="1300.49" x2="125.60" y2="1300.49" stroke="#c0c000" stroke-width="2.4" stroke-linecap="round"/>
<line x1="182.30" y1="1285.62" x2="182.30" y2="1312.93" stroke="#c0c000" stroke-width="2.8" stroke-linecap="butt"/>
<line x1="178.40" y1="1285.62" x2="186.20" y2="1285.62" stroke="#c0c000" stroke-width="2.4" stroke-linecap="round"/>
<line x1="178.40" y1="1312.93" x2="186.20" y2="1312.93" stroke="#c0c000" stroke-width="2.4" stroke-linecap="round"/>
<line x1="243.00" y1="1317.17" x2="243.00" y2="1344.48" stroke="#c0c000" stroke-width="2.8" stroke-linecap="butt"/>
<line x1="239.10" y1="1317.17" x2="246.90" y2="1317.17" stroke="#c0c000" stroke-width="2.4" stroke-linecap="round"/>
<line x1="239.10" y1="1344.48" x2="246.90" y2="1344.48" stroke="#c0c000" stroke-width="2.4" stroke-linecap="round"/>
<line x1="303.80" y1="1338.71" x2="303.80" y2="1366.02" stroke="#c0c000" stroke-width="2.8" stroke-linecap="butt"/>
<line x1="299.90" y1="1338.71" x2="307.70" y2="1338.71" stroke="#c0c000" stroke-width="2.4" stroke-linecap="round"/>
<line x1="299.90" y1="1366.02" x2="307.70" y2="1366.02" stroke="#c0c000" stroke-width="2.4" stroke-linecap="round"/>
<line x1="364.50" y1="1388.16" x2="364.50" y2="1415.47" stroke="#c0c000" stroke-width="2.8" stroke-linecap="butt"/>
<line x1="360.60" y1="1388.16" x2="368.40" y2="1388.16" stroke="#c0c000" stroke-width="2.4" stroke-linecap="round"/>
<line x1="360.60" y1="1415.47" x2="368.40" y2="1415.47" stroke="#c0c000" stroke-width="2.4" stroke-linecap="round"/>
<line x1="425.20" y1="1418.20" x2="425.20" y2="1442.47" stroke="#c0c000" stroke-width="2.8" stroke-linecap="butt"/>
<line x1="421.30" y1="1418.20" x2="429.10" y2="1418.20" stroke="#c0c000" stroke-width="2.4" stroke-linecap="round"/>
<line x1="421.30" y1="1442.47" x2="429.10" y2="1442.47" stroke="#c0c000" stroke-width="2.4" stroke-linecap="round"/>
<path d="M60.90 1251.66L64.86 1244.82L56.94 1244.82Z" fill="#c0c000"/>
<path d="M121.70 1289.28L125.66 1282.44L117.74 1282.44Z" fill="#c0c000"/>
<path d="M182.30 1303.23L186.26 1296.39L178.34 1296.39Z" fill="#c0c000"/>
<path d="M243.00 1334.78L246.96 1327.94L239.04 1327.94Z" fill="#c0c000"/>
<path d="M303.80 1356.32L307.76 1349.48L299.84 1349.48Z" fill="#c0c000"/>
<path d="M364.50 1405.77L368.46 1398.93L360.54 1398.93Z" fill="#c0c000"/>
<path d="M425.20 1434.29L429.16 1427.45L421.24 1427.45Z" fill="#c0c000"/>
<path d="M435.90 1396.50H442.20V1437.80H435.90" fill="none" stroke="#000" stroke-width="1.8"/>
<text x="448.20" y="1427.90" font-size="20" text-anchor="middle" stroke="#000" stroke-width="0.5">*</text>
<text x="457.60" y="1427.90" font-size="20" text-anchor="middle" stroke="#000" stroke-width="0.5">*</text>
<text x="467.00" y="1427.90" font-size="20" text-anchor="middle" stroke="#000" stroke-width="0.5">*</text>
<path d="M449.80 1430.20H454.90V1482.60H449.80" fill="none" stroke="#000" stroke-width="1.8"/>
<text x="461.60" y="1470.20" font-size="20" text-anchor="middle" stroke="#000" stroke-width="0.5">*</text>
<text x="471.00" y="1470.20" font-size="20" text-anchor="middle" stroke="#000" stroke-width="0.5">*</text>
<text x="480.40" y="1470.20" font-size="20" text-anchor="middle" stroke="#000" stroke-width="0.5">*</text>
<text transform="translate(157.75 1186.30) scale(1.0152 1)" font-size="26.52" stroke="#000" stroke-width="0.38">HCT116/regR</text>
<text transform="translate(18.07 1467.61) scale(1.0940 1) rotate(-90)" font-size="20.27" font-weight="bold">Survival cell rate (%)</text>
<line x1="45.30" y1="1209.90" x2="71.40" y2="1209.90" stroke="#ff0000" stroke-width="2.7" stroke-linecap="butt"/>
<circle cx="58.35" cy="1209.90" r="3.30" fill="#ff0000"/>
<text transform="translate(85.56 1216.30) scale(1.0712 1)" font-size="16.94" stroke="#000" stroke-width="0.38">sh-NC+DMSO</text>
<line x1="45.30" y1="1227.80" x2="71.40" y2="1227.80" stroke="#0000c0" stroke-width="2.7" stroke-linecap="butt"/>
<rect x="55.05" y="1224.50" width="6.60" height="6.60" fill="#0000c0"/>
<text transform="translate(85.57 1234.00) scale(1.0219 1)" font-size="17.36" stroke="#000" stroke-width="0.38">sh-NC+CT99021</text>
<line x1="227.60" y1="1210.60" x2="253.30" y2="1210.60" stroke="#00c000" stroke-width="2.7" stroke-linecap="butt"/>
<path d="M240.45 1206.97L244.08 1213.24L236.82 1213.24Z" fill="#00c000"/>
<text transform="translate(267.65 1216.90) scale(1.0741 1)" font-size="16.94" stroke="#000" stroke-width="0.38">sh-CCR2+DMSO</text>
<line x1="226.30" y1="1228.90" x2="251.80" y2="1228.90" stroke="#c0c000" stroke-width="2.7" stroke-linecap="butt"/>
<path d="M239.05 1232.53L242.68 1226.26L235.42 1226.26Z" fill="#c0c000"/>
<text transform="translate(266.46 1235.00) scale(1.0318 1)" font-size="17.36" stroke="#000" stroke-width="0.38">sh-CCR2+CT99021</text>
<text transform="translate(446.38 1521.62) scale(1.0210 1)" font-size="19.89" stroke="#000" stroke-width="0.38">(μM)</text>
<line x1="552.50" y1="1247.30" x2="552.50" y2="1493.00" stroke="#000" stroke-width="2.6" stroke-linecap="butt"/>
<line x1="545.00" y1="1491.70" x2="552.50" y2="1491.70" stroke="#000" stroke-width="2.6" stroke-linecap="butt"/>
<text x="542.80" y="1499.15" font-size="20.8" text-anchor="end" font-weight="bold">20</text>
<line x1="545.00" y1="1430.92" x2="552.50" y2="1430.92" stroke="#000" stroke-width="2.6" stroke-linecap="butt"/>
<text x="542.80" y="1438.37" font-size="20.8" text-anchor="end" font-weight="bold">40</text>
<line x1="545.00" y1="1370.15" x2="552.50" y2="1370.15" stroke="#000" stroke-width="2.6" stroke-linecap="butt"/>
<text x="542.80" y="1377.60" font-size="20.8" text-anchor="end" font-weight="bold">60</text>
<line x1="545.00" y1="1309.38" x2="552.50" y2="1309.38" stroke="#000" stroke-width="2.6" stroke-linecap="butt"/>
<text x="542.80" y="1316.82" font-size="20.8" text-anchor="end" font-weight="bold">80</text>
<line x1="545.00" y1="1248.60" x2="552.50" y2="1248.60" stroke="#000" stroke-width="2.6" stroke-linecap="butt"/>
<text x="542.80" y="1256.05" font-size="20.8" text-anchor="end" font-weight="bold">100</text>
<line x1="545.00" y1="1491.70" x2="916.90" y2="1491.70" stroke="#000" stroke-width="2.6" stroke-linecap="butt"/>
<line x1="552.50" y1="1491.70" x2="552.50" y2="1499.20" stroke="#000" stroke-width="2.6" stroke-linecap="butt"/>
<text x="552.80" y="1520.00" font-size="20.8" text-anchor="middle" font-weight="bold">0</text>
<line x1="613.20" y1="1491.70" x2="613.20" y2="1499.20" stroke="#000" stroke-width="2.6" stroke-linecap="butt"/>
<text x="613.50" y="1520.00" font-size="20.8" text-anchor="middle" font-weight="bold">1</text>
<line x1="673.50" y1="1491.70" x2="673.50" y2="1499.20" stroke="#000" stroke-width="2.6" stroke-linecap="butt"/>
<text x="673.80" y="1520.00" font-size="20.8" text-anchor="middle" font-weight="bold">5</text>
<line x1="734.10" y1="1491.70" x2="734.10" y2="1499.20" stroke="#000" stroke-width="2.6" stroke-linecap="butt"/>
<text x="734.40" y="1520.00" font-size="20.8" text-anchor="middle" font-weight="bold">10</text>
<line x1="794.70" y1="1491.70" x2="794.70" y2="1499.20" stroke="#000" stroke-width="2.6" stroke-linecap="butt"/>
<text x="795.00" y="1520.00" font-size="20.8" text-anchor="middle" font-weight="bold">20</text>
<line x1="855.50" y1="1491.70" x2="855.50" y2="1499.20" stroke="#000" stroke-width="2.6" stroke-linecap="butt"/>
<text x="855.80" y="1520.00" font-size="20.8" text-anchor="middle" font-weight="bold">40</text>
<line x1="915.60" y1="1491.70" x2="915.60" y2="1499.20" stroke="#000" stroke-width="2.6" stroke-linecap="butt"/>
<text x="915.90" y="1520.00" font-size="20.8" text-anchor="middle" font-weight="bold">60</text>
<path d="M552.50 1248.60 L613.20 1283.85 L673.50 1307.55 L734.10 1344.62 L794.70 1368.33 L855.50 1378.66 L915.60 1397.80" fill="none" stroke="#ff0000" stroke-width="2.7" stroke-linejoin="round"/>
<line x1="613.20" y1="1273.21" x2="613.20" y2="1294.49" stroke="#ff0000" stroke-width="2.8" stroke-linecap="butt"/>
<line x1="609.30" y1="1273.21" x2="617.10" y2="1273.21" stroke="#ff0000" stroke-width="2.4" stroke-linecap="round"/>
<line x1="609.30" y1="1294.49" x2="617.10" y2="1294.49" stroke="#ff0000" stroke-width="2.4" stroke-linecap="round"/>
<line x1="673.50" y1="1296.92" x2="673.50" y2="1318.19" stroke="#ff0000" stroke-width="2.8" stroke-linecap="butt"/>
<line x1="669.60" y1="1296.92" x2="677.40" y2="1296.92" stroke="#ff0000" stroke-width="2.4" stroke-linecap="round"/>
<line x1="669.60" y1="1318.19" x2="677.40" y2="1318.19" stroke="#ff0000" stroke-width="2.4" stroke-linecap="round"/>
<line x1="734.10" y1="1333.99" x2="734.10" y2="1355.26" stroke="#ff0000" stroke-width="2.8" stroke-linecap="butt"/>
<line x1="730.20" y1="1333.99" x2="738.00" y2="1333.99" stroke="#ff0000" stroke-width="2.4" stroke-linecap="round"/>
<line x1="730.20" y1="1355.26" x2="738.00" y2="1355.26" stroke="#ff0000" stroke-width="2.4" stroke-linecap="round"/>
<line x1="794.70" y1="1356.17" x2="794.70" y2="1380.48" stroke="#ff0000" stroke-width="2.8" stroke-linecap="butt"/>
<line x1="790.80" y1="1356.17" x2="798.60" y2="1356.17" stroke="#ff0000" stroke-width="2.4" stroke-linecap="round"/>
<line x1="790.80" y1="1380.48" x2="798.60" y2="1380.48" stroke="#ff0000" stroke-width="2.4" stroke-linecap="round"/>
<line x1="855.50" y1="1368.02" x2="855.50" y2="1389.29" stroke="#ff0000" stroke-width="2.8" stroke-linecap="butt"/>
<line x1="851.60" y1="1368.02" x2="859.40" y2="1368.02" stroke="#ff0000" stroke-width="2.4" stroke-linecap="round"/>
<line x1="851.60" y1="1389.29" x2="859.40" y2="1389.29" stroke="#ff0000" stroke-width="2.4" stroke-linecap="round"/>
<line x1="915.60" y1="1385.65" x2="915.60" y2="1409.96" stroke="#ff0000" stroke-width="2.8" stroke-linecap="butt"/>
<line x1="911.70" y1="1385.65" x2="919.50" y2="1385.65" stroke="#ff0000" stroke-width="2.4" stroke-linecap="round"/>
<line x1="911.70" y1="1409.96" x2="919.50" y2="1409.96" stroke="#ff0000" stroke-width="2.4" stroke-linecap="round"/>
<circle cx="552.50" cy="1248.60" r="3.60" fill="#ff0000"/>
<circle cx="613.20" cy="1283.85" r="3.60" fill="#ff0000"/>
<circle cx="673.50" cy="1307.55" r="3.60" fill="#ff0000"/>
<circle cx="734.10" cy="1344.62" r="3.60" fill="#ff0000"/>
<circle cx="794.70" cy="1368.33" r="3.60" fill="#ff0000"/>
<circle cx="855.50" cy="1378.66" r="3.60" fill="#ff0000"/>
<circle cx="915.60" cy="1397.80" r="3.60" fill="#ff0000"/>
<path d="M552.50 1248.60 L613.20 1269.57 L673.50 1271.69 L734.10 1285.67 L794.70 1318.19 L855.50 1332.47 L915.60 1360.43" fill="none" stroke="#0000c0" stroke-width="2.7" stroke-linejoin="round"/>
<line x1="613.20" y1="1261.97" x2="613.20" y2="1277.16" stroke="#0000c0" stroke-width="2.8" stroke-linecap="butt"/>
<line x1="609.30" y1="1261.97" x2="617.10" y2="1261.97" stroke="#0000c0" stroke-width="2.4" stroke-linecap="round"/>
<line x1="609.30" y1="1277.16" x2="617.10" y2="1277.16" stroke="#0000c0" stroke-width="2.4" stroke-linecap="round"/>
<line x1="673.50" y1="1262.58" x2="673.50" y2="1280.81" stroke="#0000c0" stroke-width="2.8" stroke-linecap="butt"/>
<line x1="669.60" y1="1262.58" x2="677.40" y2="1262.58" stroke="#0000c0" stroke-width="2.4" stroke-linecap="round"/>
<line x1="669.60" y1="1280.81" x2="677.40" y2="1280.81" stroke="#0000c0" stroke-width="2.4" stroke-linecap="round"/>
<line x1="734.10" y1="1276.56" x2="734.10" y2="1294.79" stroke="#0000c0" stroke-width="2.8" stroke-linecap="butt"/>
<line x1="730.20" y1="1276.56" x2="738.00" y2="1276.56" stroke="#0000c0" stroke-width="2.4" stroke-linecap="round"/>
<line x1="730.20" y1="1294.79" x2="738.00" y2="1294.79" stroke="#0000c0" stroke-width="2.4" stroke-linecap="round"/>
<line x1="794.70" y1="1309.07" x2="794.70" y2="1327.30" stroke="#0000c0" stroke-width="2.8" stroke-linecap="butt"/>
<line x1="790.80" y1="1309.07" x2="798.60" y2="1309.07" stroke="#0000c0" stroke-width="2.4" stroke-linecap="round"/>
<line x1="790.80" y1="1327.30" x2="798.60" y2="1327.30" stroke="#0000c0" stroke-width="2.4" stroke-linecap="round"/>
<line x1="855.50" y1="1324.87" x2="855.50" y2="1340.07" stroke="#0000c0" stroke-width="2.8" stroke-linecap="butt"/>
<line x1="851.60" y1="1324.87" x2="859.40" y2="1324.87" stroke="#0000c0" stroke-width="2.4" stroke-linecap="round"/>
<line x1="851.60" y1="1340.07" x2="859.40" y2="1340.07" stroke="#0000c0" stroke-width="2.4" stroke-linecap="round"/>
<line x1="915.60" y1="1349.79" x2="915.60" y2="1371.06" stroke="#0000c0" stroke-width="2.8" stroke-linecap="butt"/>
<line x1="911.70" y1="1349.79" x2="919.50" y2="1349.79" stroke="#0000c0" stroke-width="2.4" stroke-linecap="round"/>
<line x1="911.70" y1="1371.06" x2="919.50" y2="1371.06" stroke="#0000c0" stroke-width="2.4" stroke-linecap="round"/>
<rect x="548.90" y="1245.00" width="7.20" height="7.20" fill="#0000c0"/>
<rect x="609.60" y="1265.97" width="7.20" height="7.20" fill="#0000c0"/>
<rect x="669.90" y="1268.09" width="7.20" height="7.20" fill="#0000c0"/>
<rect x="730.50" y="1282.07" width="7.20" height="7.20" fill="#0000c0"/>
<rect x="791.10" y="1314.59" width="7.20" height="7.20" fill="#0000c0"/>
<rect x="851.90" y="1328.87" width="7.20" height="7.20" fill="#0000c0"/>
<rect x="912.00" y="1356.83" width="7.20" height="7.20" fill="#0000c0"/>
<path d="M552.50 1248.60 L613.20 1302.69 L673.50 1329.73 L734.10 1369.24 L794.70 1417.55 L855.50 1456.45 L915.60 1467.39" fill="none" stroke="#00c000" stroke-width="2.7" stroke-linejoin="round"/>
<line x1="613.20" y1="1290.53" x2="613.20" y2="1314.84" stroke="#00c000" stroke-width="2.8" stroke-linecap="butt"/>
<line x1="609.30" y1="1290.53" x2="617.10" y2="1290.53" stroke="#00c000" stroke-width="2.4" stroke-linecap="round"/>
<line x1="609.30" y1="1314.84" x2="617.10" y2="1314.84" stroke="#00c000" stroke-width="2.4" stroke-linecap="round"/>
<line x1="673.50" y1="1319.10" x2="673.50" y2="1340.37" stroke="#00c000" stroke-width="2.8" stroke-linecap="butt"/>
<line x1="669.60" y1="1319.10" x2="677.40" y2="1319.10" stroke="#00c000" stroke-width="2.4" stroke-linecap="round"/>
<line x1="669.60" y1="1340.37" x2="677.40" y2="1340.37" stroke="#00c000" stroke-width="2.4" stroke-linecap="round"/>
<line x1="734.10" y1="1360.12" x2="734.10" y2="1378.35" stroke="#00c000" stroke-width="2.8" stroke-linecap="butt"/>
<line x1="730.20" y1="1360.12" x2="738.00" y2="1360.12" stroke="#00c000" stroke-width="2.4" stroke-linecap="round"/>
<line x1="730.20" y1="1378.35" x2="738.00" y2="1378.35" stroke="#00c000" stroke-width="2.4" stroke-linecap="round"/>
<line x1="794.70" y1="1406.92" x2="794.70" y2="1428.19" stroke="#00c000" stroke-width="2.8" stroke-linecap="butt"/>
<line x1="790.80" y1="1406.92" x2="798.60" y2="1406.92" stroke="#00c000" stroke-width="2.4" stroke-linecap="round"/>
<line x1="790.80" y1="1428.19" x2="798.60" y2="1428.19" stroke="#00c000" stroke-width="2.4" stroke-linecap="round"/>
<line x1="855.50" y1="1447.33" x2="855.50" y2="1465.57" stroke="#00c000" stroke-width="2.8" stroke-linecap="butt"/>
<line x1="851.60" y1="1447.33" x2="859.40" y2="1447.33" stroke="#00c000" stroke-width="2.4" stroke-linecap="round"/>
<line x1="851.60" y1="1465.57" x2="859.40" y2="1465.57" stroke="#00c000" stroke-width="2.4" stroke-linecap="round"/>
<line x1="915.60" y1="1459.79" x2="915.60" y2="1474.99" stroke="#00c000" stroke-width="2.8" stroke-linecap="butt"/>
<line x1="911.70" y1="1459.79" x2="919.50" y2="1459.79" stroke="#00c000" stroke-width="2.4" stroke-linecap="round"/>
<line x1="911.70" y1="1474.99" x2="919.50" y2="1474.99" stroke="#00c000" stroke-width="2.4" stroke-linecap="round"/>
<path d="M552.50 1244.64L556.46 1251.48L548.54 1251.48Z" fill="#00c000"/>
<path d="M613.20 1298.73L617.16 1305.57L609.24 1305.57Z" fill="#00c000"/>
<path d="M673.50 1325.77L677.46 1332.61L669.54 1332.61Z" fill="#00c000"/>
<path d="M734.10 1365.28L738.06 1372.12L730.14 1372.12Z" fill="#00c000"/>
<path d="M794.70 1413.59L798.66 1420.43L790.74 1420.43Z" fill="#00c000"/>
<path d="M855.50 1452.49L859.46 1459.33L851.54 1459.33Z" fill="#00c000"/>
<path d="M915.60 1463.43L919.56 1470.27L911.64 1470.27Z" fill="#00c000"/>
<path d="M552.50 1248.60 L613.20 1285.07 L673.50 1305.73 L734.10 1325.78 L794.70 1362.55 L855.50 1411.78 L915.60 1426.37" fill="none" stroke="#c0c000" stroke-width="2.7" stroke-linejoin="round"/>
<line x1="613.20" y1="1274.43" x2="613.20" y2="1295.70" stroke="#c0c000" stroke-width="2.8" stroke-linecap="butt"/>
<line x1="609.30" y1="1274.43" x2="617.10" y2="1274.43" stroke="#c0c000" stroke-width="2.4" stroke-linecap="round"/>
<line x1="609.30" y1="1295.70" x2="617.10" y2="1295.70" stroke="#c0c000" stroke-width="2.4" stroke-linecap="round"/>
<line x1="673.50" y1="1295.09" x2="673.50" y2="1316.36" stroke="#c0c000" stroke-width="2.8" stroke-linecap="butt"/>
<line x1="669.60" y1="1295.09" x2="677.40" y2="1295.09" stroke="#c0c000" stroke-width="2.4" stroke-linecap="round"/>
<line x1="669.60" y1="1316.36" x2="677.40" y2="1316.36" stroke="#c0c000" stroke-width="2.4" stroke-linecap="round"/>
<line x1="734.10" y1="1313.63" x2="734.10" y2="1337.94" stroke="#c0c000" stroke-width="2.8" stroke-linecap="butt"/>
<line x1="730.20" y1="1313.63" x2="738.00" y2="1313.63" stroke="#c0c000" stroke-width="2.4" stroke-linecap="round"/>
<line x1="730.20" y1="1337.94" x2="738.00" y2="1337.94" stroke="#c0c000" stroke-width="2.4" stroke-linecap="round"/>
<line x1="794.70" y1="1345.84" x2="794.70" y2="1379.27" stroke="#c0c000" stroke-width="2.8" stroke-linecap="butt"/>
<line x1="790.80" y1="1345.84" x2="798.60" y2="1345.84" stroke="#c0c000" stroke-width="2.4" stroke-linecap="round"/>
<line x1="790.80" y1="1379.27" x2="798.60" y2="1379.27" stroke="#c0c000" stroke-width="2.4" stroke-linecap="round"/>
<line x1="855.50" y1="1401.15" x2="855.50" y2="1422.42" stroke="#c0c000" stroke-width="2.8" stroke-linecap="butt"/>
<line x1="851.60" y1="1401.15" x2="859.40" y2="1401.15" stroke="#c0c000" stroke-width="2.4" stroke-linecap="round"/>
<line x1="851.60" y1="1422.42" x2="859.40" y2="1422.42" stroke="#c0c000" stroke-width="2.4" stroke-linecap="round"/>
<line x1="915.60" y1="1415.73" x2="915.60" y2="1437.00" stroke="#c0c000" stroke-width="2.8" stroke-linecap="butt"/>
<line x1="911.70" y1="1415.73" x2="919.50" y2="1415.73" stroke="#c0c000" stroke-width="2.4" stroke-linecap="round"/>
<line x1="911.70" y1="1437.00" x2="919.50" y2="1437.00" stroke="#c0c000" stroke-width="2.4" stroke-linecap="round"/>
<path d="M552.50 1252.56L556.46 1245.72L548.54 1245.72Z" fill="#c0c000"/>
<path d="M613.20 1289.03L617.16 1282.18L609.24 1282.18Z" fill="#c0c000"/>
<path d="M673.50 1309.69L677.46 1302.85L669.54 1302.85Z" fill="#c0c000"/>
<path d="M734.10 1329.74L738.06 1322.90L730.14 1322.90Z" fill="#c0c000"/>
<path d="M794.70 1366.51L798.66 1359.67L790.74 1359.67Z" fill="#c0c000"/>
<path d="M855.50 1415.74L859.46 1408.90L851.54 1408.90Z" fill="#c0c000"/>
<path d="M915.60 1430.33L919.56 1423.49L911.64 1423.49Z" fill="#c0c000"/>
<path d="M930.60 1359.30H936.60V1399.70H930.60" fill="none" stroke="#000" stroke-width="1.8"/>
<text x="945.40" y="1390.70" font-size="20" text-anchor="middle" stroke="#000" stroke-width="0.5">*</text>
<text x="954.80" y="1390.70" font-size="20" text-anchor="middle" stroke="#000" stroke-width="0.5">*</text>
<text x="964.20" y="1390.70" font-size="20" text-anchor="middle" stroke="#000" stroke-width="0.5">*</text>
<path d="M925.20 1424.50H930.60V1469.00H925.20" fill="none" stroke="#000" stroke-width="1.8"/>
<text x="938.00" y="1456.40" font-size="20" text-anchor="middle" stroke="#000" stroke-width="0.5">*</text>
<text x="947.40" y="1456.40" font-size="20" text-anchor="middle" stroke="#000" stroke-width="0.5">*</text>
<text x="956.80" y="1456.40" font-size="20" text-anchor="middle" stroke="#000" stroke-width="0.5">*</text>
<text transform="translate(671.77 1186.30) scale(1.0034 1)" font-size="26.52" stroke="#000" stroke-width="0.38">SW480/regR</text>
<text transform="translate(509.77 1468.31) scale(1.0189 1) rotate(-90)" font-size="20.27" font-weight="bold">Survival cell rate (%)</text>
<line x1="537.00" y1="1211.40" x2="562.50" y2="1211.40" stroke="#ff0000" stroke-width="2.7" stroke-linecap="butt"/>
<circle cx="549.75" cy="1211.40" r="3.30" fill="#ff0000"/>
<text transform="translate(577.16 1217.50) scale(1.0401 1)" font-size="17.36" stroke="#000" stroke-width="0.38">sh-NC+DMSO</text>
<line x1="537.00" y1="1229.50" x2="562.50" y2="1229.50" stroke="#0000c0" stroke-width="2.7" stroke-linecap="butt"/>
<rect x="546.45" y="1226.20" width="6.60" height="6.60" fill="#0000c0"/>
<text transform="translate(577.17 1235.10) scale(1.0204 1)" font-size="17.36" stroke="#000" stroke-width="0.38">sh-NC+CT99021</text>
<line x1="730.10" y1="1212.00" x2="755.60" y2="1212.00" stroke="#00c000" stroke-width="2.7" stroke-linecap="butt"/>
<path d="M742.85 1208.37L746.48 1214.64L739.22 1214.64Z" fill="#00c000"/>
<text transform="translate(770.06 1218.10) scale(1.0694 1)" font-size="16.94" stroke="#000" stroke-width="0.38">sh-CCR2+DMSO</text>
<line x1="730.10" y1="1230.10" x2="755.60" y2="1230.10" stroke="#c0c000" stroke-width="2.7" stroke-linecap="butt"/>
<path d="M742.85 1233.73L746.48 1227.46L739.22 1227.46Z" fill="#c0c000"/>
<text transform="translate(770.06 1236.10) scale(1.0305 1)" font-size="17.36" stroke="#000" stroke-width="0.38">sh-CCR2+CT99021</text>
<text transform="translate(939.68 1517.30) scale(0.9706 1)" font-size="20.98" stroke="#000" stroke-width="0.38">(μM)</text>
<line x1="1082.70" y1="1247.80" x2="1082.70" y2="1491.40" stroke="#000" stroke-width="2.6" stroke-linecap="butt"/>
<line x1="1075.20" y1="1490.10" x2="1082.70" y2="1490.10" stroke="#000" stroke-width="2.6" stroke-linecap="butt"/>
<text x="1073.00" y="1497.55" font-size="20.8" text-anchor="end" font-weight="bold">0</text>
<line x1="1075.20" y1="1441.90" x2="1082.70" y2="1441.90" stroke="#000" stroke-width="2.6" stroke-linecap="butt"/>
<text x="1073.00" y="1449.35" font-size="20.8" text-anchor="end" font-weight="bold">20</text>
<line x1="1075.20" y1="1393.70" x2="1082.70" y2="1393.70" stroke="#000" stroke-width="2.6" stroke-linecap="butt"/>
<text x="1073.00" y="1401.15" font-size="20.8" text-anchor="end" font-weight="bold">40</text>
<line x1="1075.20" y1="1345.50" x2="1082.70" y2="1345.50" stroke="#000" stroke-width="2.6" stroke-linecap="butt"/>
<text x="1073.00" y="1352.95" font-size="20.8" text-anchor="end" font-weight="bold">60</text>
<line x1="1075.20" y1="1297.30" x2="1082.70" y2="1297.30" stroke="#000" stroke-width="2.6" stroke-linecap="butt"/>
<text x="1073.00" y="1304.75" font-size="20.8" text-anchor="end" font-weight="bold">80</text>
<line x1="1075.20" y1="1249.10" x2="1082.70" y2="1249.10" stroke="#000" stroke-width="2.6" stroke-linecap="butt"/>
<text x="1073.00" y="1256.55" font-size="20.8" text-anchor="end" font-weight="bold">100</text>
<line x1="1075.20" y1="1490.10" x2="1442.30" y2="1490.10" stroke="#000" stroke-width="2.6" stroke-linecap="butt"/>
<line x1="1082.70" y1="1490.10" x2="1082.70" y2="1497.60" stroke="#000" stroke-width="2.6" stroke-linecap="butt"/>
<text x="1083.00" y="1518.40" font-size="20.8" text-anchor="middle" font-weight="bold">0</text>
<line x1="1142.60" y1="1490.10" x2="1142.60" y2="1497.60" stroke="#000" stroke-width="2.6" stroke-linecap="butt"/>
<text x="1142.90" y="1518.40" font-size="20.8" text-anchor="middle" font-weight="bold">1</text>
<line x1="1202.20" y1="1490.10" x2="1202.20" y2="1497.60" stroke="#000" stroke-width="2.6" stroke-linecap="butt"/>
<text x="1202.50" y="1518.40" font-size="20.8" text-anchor="middle" font-weight="bold">5</text>
<line x1="1261.80" y1="1490.10" x2="1261.80" y2="1497.60" stroke="#000" stroke-width="2.6" stroke-linecap="butt"/>
<text x="1262.10" y="1518.40" font-size="20.8" text-anchor="middle" font-weight="bold">10</text>
<line x1="1321.80" y1="1490.10" x2="1321.80" y2="1497.60" stroke="#000" stroke-width="2.6" stroke-linecap="butt"/>
<text x="1322.10" y="1518.40" font-size="20.8" text-anchor="middle" font-weight="bold">20</text>
<line x1="1381.40" y1="1490.10" x2="1381.40" y2="1497.60" stroke="#000" stroke-width="2.6" stroke-linecap="butt"/>
<text x="1381.70" y="1518.40" font-size="20.8" text-anchor="middle" font-weight="bold">40</text>
<line x1="1441.00" y1="1490.10" x2="1441.00" y2="1497.60" stroke="#000" stroke-width="2.6" stroke-linecap="butt"/>
<text x="1441.30" y="1518.40" font-size="20.8" text-anchor="middle" font-weight="bold">60</text>
<path d="M1082.70 1249.10 L1142.60 1300.91 L1202.20 1313.93 L1261.80 1354.66 L1321.80 1381.89 L1381.40 1415.87 L1441.00 1432.36" fill="none" stroke="#ff0000" stroke-width="2.7" stroke-linejoin="round"/>
<line x1="1142.60" y1="1293.68" x2="1142.60" y2="1308.14" stroke="#ff0000" stroke-width="2.8" stroke-linecap="butt"/>
<line x1="1138.70" y1="1293.68" x2="1146.50" y2="1293.68" stroke="#ff0000" stroke-width="2.4" stroke-linecap="round"/>
<line x1="1138.70" y1="1308.14" x2="1146.50" y2="1308.14" stroke="#ff0000" stroke-width="2.4" stroke-linecap="round"/>
<line x1="1202.20" y1="1306.70" x2="1202.20" y2="1321.16" stroke="#ff0000" stroke-width="2.8" stroke-linecap="butt"/>
<line x1="1198.30" y1="1306.70" x2="1206.10" y2="1306.70" stroke="#ff0000" stroke-width="2.4" stroke-linecap="round"/>
<line x1="1198.30" y1="1321.16" x2="1206.10" y2="1321.16" stroke="#ff0000" stroke-width="2.4" stroke-linecap="round"/>
<line x1="1261.80" y1="1347.43" x2="1261.80" y2="1361.89" stroke="#ff0000" stroke-width="2.8" stroke-linecap="butt"/>
<line x1="1257.90" y1="1347.43" x2="1265.70" y2="1347.43" stroke="#ff0000" stroke-width="2.4" stroke-linecap="round"/>
<line x1="1257.90" y1="1361.89" x2="1265.70" y2="1361.89" stroke="#ff0000" stroke-width="2.4" stroke-linecap="round"/>
<line x1="1321.80" y1="1374.66" x2="1321.80" y2="1389.12" stroke="#ff0000" stroke-width="2.8" stroke-linecap="butt"/>
<line x1="1317.90" y1="1374.66" x2="1325.70" y2="1374.66" stroke="#ff0000" stroke-width="2.4" stroke-linecap="round"/>
<line x1="1317.90" y1="1389.12" x2="1325.70" y2="1389.12" stroke="#ff0000" stroke-width="2.4" stroke-linecap="round"/>
<line x1="1381.40" y1="1409.85" x2="1381.40" y2="1421.90" stroke="#ff0000" stroke-width="2.8" stroke-linecap="butt"/>
<line x1="1377.50" y1="1409.85" x2="1385.30" y2="1409.85" stroke="#ff0000" stroke-width="2.4" stroke-linecap="round"/>
<line x1="1377.50" y1="1421.90" x2="1385.30" y2="1421.90" stroke="#ff0000" stroke-width="2.4" stroke-linecap="round"/>
<line x1="1441.00" y1="1425.13" x2="1441.00" y2="1439.59" stroke="#ff0000" stroke-width="2.8" stroke-linecap="butt"/>
<line x1="1437.10" y1="1425.13" x2="1444.90" y2="1425.13" stroke="#ff0000" stroke-width="2.4" stroke-linecap="round"/>
<line x1="1437.10" y1="1439.59" x2="1444.90" y2="1439.59" stroke="#ff0000" stroke-width="2.4" stroke-linecap="round"/>
<circle cx="1082.70" cy="1249.10" r="3.60" fill="#ff0000"/>
<circle cx="1142.60" cy="1300.91" r="3.60" fill="#ff0000"/>
<circle cx="1202.20" cy="1313.93" r="3.60" fill="#ff0000"/>
<circle cx="1261.80" cy="1354.66" r="3.60" fill="#ff0000"/>
<circle cx="1321.80" cy="1381.89" r="3.60" fill="#ff0000"/>
<circle cx="1381.40" cy="1415.87" r="3.60" fill="#ff0000"/>
<circle cx="1441.00" cy="1432.36" r="3.60" fill="#ff0000"/>
<path d="M1082.70 1249.10 L1142.60 1320.19 L1202.20 1341.16 L1261.80 1378.03 L1321.80 1415.15 L1381.40 1438.77 L1441.00 1450.09" fill="none" stroke="#0000c0" stroke-width="2.7" stroke-linejoin="round"/>
<line x1="1142.60" y1="1314.17" x2="1142.60" y2="1326.22" stroke="#0000c0" stroke-width="2.8" stroke-linecap="butt"/>
<line x1="1138.70" y1="1314.17" x2="1146.50" y2="1314.17" stroke="#0000c0" stroke-width="2.4" stroke-linecap="round"/>
<line x1="1138.70" y1="1326.22" x2="1146.50" y2="1326.22" stroke="#0000c0" stroke-width="2.4" stroke-linecap="round"/>
<line x1="1202.20" y1="1332.73" x2="1202.20" y2="1349.60" stroke="#0000c0" stroke-width="2.8" stroke-linecap="butt"/>
<line x1="1198.30" y1="1332.73" x2="1206.10" y2="1332.73" stroke="#0000c0" stroke-width="2.4" stroke-linecap="round"/>
<line x1="1198.30" y1="1349.60" x2="1206.10" y2="1349.60" stroke="#0000c0" stroke-width="2.4" stroke-linecap="round"/>
<line x1="1261.80" y1="1369.60" x2="1261.80" y2="1386.47" stroke="#0000c0" stroke-width="2.8" stroke-linecap="butt"/>
<line x1="1257.90" y1="1369.60" x2="1265.70" y2="1369.60" stroke="#0000c0" stroke-width="2.4" stroke-linecap="round"/>
<line x1="1257.90" y1="1386.47" x2="1265.70" y2="1386.47" stroke="#0000c0" stroke-width="2.4" stroke-linecap="round"/>
<line x1="1321.80" y1="1407.92" x2="1321.80" y2="1422.38" stroke="#0000c0" stroke-width="2.8" stroke-linecap="butt"/>
<line x1="1317.90" y1="1407.92" x2="1325.70" y2="1407.92" stroke="#0000c0" stroke-width="2.4" stroke-linecap="round"/>
<line x1="1317.90" y1="1422.38" x2="1325.70" y2="1422.38" stroke="#0000c0" stroke-width="2.4" stroke-linecap="round"/>
<line x1="1381.40" y1="1433.95" x2="1381.40" y2="1443.59" stroke="#0000c0" stroke-width="2.8" stroke-linecap="butt"/>
<line x1="1377.50" y1="1433.95" x2="1385.30" y2="1433.95" stroke="#0000c0" stroke-width="2.4" stroke-linecap="round"/>
<line x1="1377.50" y1="1443.59" x2="1385.30" y2="1443.59" stroke="#0000c0" stroke-width="2.4" stroke-linecap="round"/>
<line x1="1441.00" y1="1445.27" x2="1441.00" y2="1454.91" stroke="#0000c0" stroke-width="2.8" stroke-linecap="butt"/>
<line x1="1437.10" y1="1445.27" x2="1444.90" y2="1445.27" stroke="#0000c0" stroke-width="2.4" stroke-linecap="round"/>
<line x1="1437.10" y1="1454.91" x2="1444.90" y2="1454.91" stroke="#0000c0" stroke-width="2.4" stroke-linecap="round"/>
<rect x="1079.10" y="1245.50" width="7.20" height="7.20" fill="#0000c0"/>
<rect x="1139.00" y="1316.60" width="7.20" height="7.20" fill="#0000c0"/>
<rect x="1198.60" y="1337.56" width="7.20" height="7.20" fill="#0000c0"/>
<rect x="1258.20" y="1374.43" width="7.20" height="7.20" fill="#0000c0"/>
<rect x="1318.20" y="1411.55" width="7.20" height="7.20" fill="#0000c0"/>
<rect x="1377.80" y="1435.17" width="7.20" height="7.20" fill="#0000c0"/>
<rect x="1437.40" y="1446.49" width="7.20" height="7.20" fill="#0000c0"/>
<path d="M1082.70 1249.10 L1142.60 1271.99 L1202.20 1280.91 L1261.80 1321.64 L1321.80 1342.37 L1381.40 1378.52 L1441.00 1397.31" fill="none" stroke="#00c000" stroke-width="2.7" stroke-linejoin="round"/>
<line x1="1142.60" y1="1263.56" x2="1142.60" y2="1280.43" stroke="#00c000" stroke-width="2.8" stroke-linecap="butt"/>
<line x1="1138.70" y1="1263.56" x2="1146.50" y2="1263.56" stroke="#00c000" stroke-width="2.4" stroke-linecap="round"/>
<line x1="1138.70" y1="1280.43" x2="1146.50" y2="1280.43" stroke="#00c000" stroke-width="2.4" stroke-linecap="round"/>
<line x1="1202.20" y1="1272.48" x2="1202.20" y2="1289.35" stroke="#00c000" stroke-width="2.8" stroke-linecap="butt"/>
<line x1="1198.30" y1="1272.48" x2="1206.10" y2="1272.48" stroke="#00c000" stroke-width="2.4" stroke-linecap="round"/>
<line x1="1198.30" y1="1289.35" x2="1206.10" y2="1289.35" stroke="#00c000" stroke-width="2.4" stroke-linecap="round"/>
<line x1="1261.80" y1="1313.21" x2="1261.80" y2="1330.08" stroke="#00c000" stroke-width="2.8" stroke-linecap="butt"/>
<line x1="1257.90" y1="1313.21" x2="1265.70" y2="1313.21" stroke="#00c000" stroke-width="2.4" stroke-linecap="round"/>
<line x1="1257.90" y1="1330.08" x2="1265.70" y2="1330.08" stroke="#00c000" stroke-width="2.4" stroke-linecap="round"/>
<line x1="1321.80" y1="1333.93" x2="1321.80" y2="1350.80" stroke="#00c000" stroke-width="2.8" stroke-linecap="butt"/>
<line x1="1317.90" y1="1333.93" x2="1325.70" y2="1333.93" stroke="#00c000" stroke-width="2.4" stroke-linecap="round"/>
<line x1="1317.90" y1="1350.80" x2="1325.70" y2="1350.80" stroke="#00c000" stroke-width="2.4" stroke-linecap="round"/>
<line x1="1381.40" y1="1370.08" x2="1381.40" y2="1386.95" stroke="#00c000" stroke-width="2.8" stroke-linecap="butt"/>
<line x1="1377.50" y1="1370.08" x2="1385.30" y2="1370.08" stroke="#00c000" stroke-width="2.4" stroke-linecap="round"/>
<line x1="1377.50" y1="1386.95" x2="1385.30" y2="1386.95" stroke="#00c000" stroke-width="2.4" stroke-linecap="round"/>
<line x1="1441.00" y1="1390.08" x2="1441.00" y2="1404.54" stroke="#00c000" stroke-width="2.8" stroke-linecap="butt"/>
<line x1="1437.10" y1="1390.08" x2="1444.90" y2="1390.08" stroke="#00c000" stroke-width="2.4" stroke-linecap="round"/>
<line x1="1437.10" y1="1404.54" x2="1444.90" y2="1404.54" stroke="#00c000" stroke-width="2.4" stroke-linecap="round"/>
<path d="M1082.70 1245.14L1086.66 1251.98L1078.74 1251.98Z" fill="#00c000"/>
<path d="M1142.60 1268.03L1146.56 1274.88L1138.64 1274.88Z" fill="#00c000"/>
<path d="M1202.20 1276.95L1206.16 1283.79L1198.24 1283.79Z" fill="#00c000"/>
<path d="M1261.80 1317.68L1265.76 1324.52L1257.84 1324.52Z" fill="#00c000"/>
<path d="M1321.80 1338.41L1325.76 1345.25L1317.84 1345.25Z" fill="#00c000"/>
<path d="M1381.40 1374.56L1385.36 1381.40L1377.44 1381.40Z" fill="#00c000"/>
<path d="M1441.00 1393.35L1444.96 1400.19L1437.04 1400.19Z" fill="#00c000"/>
<path d="M1082.70 1249.10 L1142.60 1294.65 L1202.20 1309.35 L1261.80 1341.88 L1321.80 1375.14 L1381.40 1409.37 L1441.00 1427.20" fill="none" stroke="#c0c000" stroke-width="2.7" stroke-linejoin="round"/>
<line x1="1142.60" y1="1285.01" x2="1142.60" y2="1304.29" stroke="#c0c000" stroke-width="2.8" stroke-linecap="butt"/>
<line x1="1138.70" y1="1285.01" x2="1146.50" y2="1285.01" stroke="#c0c000" stroke-width="2.4" stroke-linecap="round"/>
<line x1="1138.70" y1="1304.29" x2="1146.50" y2="1304.29" stroke="#c0c000" stroke-width="2.4" stroke-linecap="round"/>
<line x1="1202.20" y1="1298.50" x2="1202.20" y2="1320.19" stroke="#c0c000" stroke-width="2.8" stroke-linecap="butt"/>
<line x1="1198.30" y1="1298.50" x2="1206.10" y2="1298.50" stroke="#c0c000" stroke-width="2.4" stroke-linecap="round"/>
<line x1="1198.30" y1="1320.19" x2="1206.10" y2="1320.19" stroke="#c0c000" stroke-width="2.4" stroke-linecap="round"/>
<line x1="1261.80" y1="1333.45" x2="1261.80" y2="1350.32" stroke="#c0c000" stroke-width="2.8" stroke-linecap="butt"/>
<line x1="1257.90" y1="1333.45" x2="1265.70" y2="1333.45" stroke="#c0c000" stroke-width="2.4" stroke-linecap="round"/>
<line x1="1257.90" y1="1350.32" x2="1265.70" y2="1350.32" stroke="#c0c000" stroke-width="2.4" stroke-linecap="round"/>
<line x1="1321.80" y1="1365.50" x2="1321.80" y2="1384.78" stroke="#c0c000" stroke-width="2.8" stroke-linecap="butt"/>
<line x1="1317.90" y1="1365.50" x2="1325.70" y2="1365.50" stroke="#c0c000" stroke-width="2.4" stroke-linecap="round"/>
<line x1="1317.90" y1="1384.78" x2="1325.70" y2="1384.78" stroke="#c0c000" stroke-width="2.4" stroke-linecap="round"/>
<line x1="1381.40" y1="1402.13" x2="1381.40" y2="1416.59" stroke="#c0c000" stroke-width="2.8" stroke-linecap="butt"/>
<line x1="1377.50" y1="1402.13" x2="1385.30" y2="1402.13" stroke="#c0c000" stroke-width="2.4" stroke-linecap="round"/>
<line x1="1377.50" y1="1416.59" x2="1385.30" y2="1416.59" stroke="#c0c000" stroke-width="2.4" stroke-linecap="round"/>
<line x1="1441.00" y1="1418.76" x2="1441.00" y2="1435.63" stroke="#c0c000" stroke-width="2.8" stroke-linecap="butt"/>
<line x1="1437.10" y1="1418.76" x2="1444.90" y2="1418.76" stroke="#c0c000" stroke-width="2.4" stroke-linecap="round"/>
<line x1="1437.10" y1="1435.63" x2="1444.90" y2="1435.63" stroke="#c0c000" stroke-width="2.4" stroke-linecap="round"/>
<path d="M1082.70 1253.06L1086.66 1246.22L1078.74 1246.22Z" fill="#c0c000"/>
<path d="M1142.60 1298.61L1146.56 1291.77L1138.64 1291.77Z" fill="#c0c000"/>
<path d="M1202.20 1313.31L1206.16 1306.47L1198.24 1306.47Z" fill="#c0c000"/>
<path d="M1261.80 1345.85L1265.76 1339.00L1257.84 1339.00Z" fill="#c0c000"/>
<path d="M1321.80 1379.10L1325.76 1372.26L1317.84 1372.26Z" fill="#c0c000"/>
<path d="M1381.40 1413.33L1385.36 1406.48L1377.44 1406.48Z" fill="#c0c000"/>
<path d="M1441.00 1431.16L1444.96 1424.32L1437.04 1424.32Z" fill="#c0c000"/>
<path d="M1452.20 1397.80H1458.50V1427.40H1452.20" fill="none" stroke="#000" stroke-width="1.8"/>
<text x="1465.60" y="1422.40" font-size="20" text-anchor="middle" stroke="#000" stroke-width="0.5">*</text>
<text x="1475.00" y="1422.40" font-size="20" text-anchor="middle" stroke="#000" stroke-width="0.5">*</text>
<text x="1484.40" y="1422.40" font-size="20" text-anchor="middle" stroke="#000" stroke-width="0.5">*</text>
<path d="M1465.00 1432.00H1470.80V1452.70H1465.00" fill="none" stroke="#000" stroke-width="1.8"/>
<text x="1478.10" y="1452.20" font-size="20" text-anchor="middle" stroke="#000" stroke-width="0.5">*</text>
<text x="1487.50" y="1452.20" font-size="20" text-anchor="middle" stroke="#000" stroke-width="0.5">*</text>
<text x="1496.90" y="1452.20" font-size="20" text-anchor="middle" stroke="#000" stroke-width="0.5">*</text>
<text transform="translate(1217.23 1185.90) scale(0.9707 1)" font-size="28.0" stroke="#000" stroke-width="0.38">HCT116</text>
<text transform="translate(1038.37 1467.70) scale(1.0294 1) rotate(-90)" font-size="20.06" font-weight="bold">Survival cell rate (%)</text>
<line x1="1070.80" y1="1213.00" x2="1096.80" y2="1213.00" stroke="#ff0000" stroke-width="2.7" stroke-linecap="butt"/>
<circle cx="1083.80" cy="1213.00" r="3.30" fill="#ff0000"/>
<text transform="translate(1109.75 1219.40) scale(1.0698 1)" font-size="16.94" stroke="#000" stroke-width="0.38">EV+si-Ctrl</text>
<line x1="1070.80" y1="1230.60" x2="1096.80" y2="1230.60" stroke="#0000c0" stroke-width="2.7" stroke-linecap="butt"/>
<rect x="1080.50" y="1227.30" width="6.60" height="6.60" fill="#0000c0"/>
<text transform="translate(1109.82 1236.59) scale(1.0115 1)" font-size="17.07" stroke="#000" stroke-width="0.38">EV+si-β -catenin</text>
<line x1="1245.30" y1="1214.00" x2="1271.50" y2="1214.00" stroke="#00c000" stroke-width="2.7" stroke-linecap="butt"/>
<path d="M1258.40 1210.37L1262.03 1216.64L1254.77 1216.64Z" fill="#00c000"/>
<text transform="translate(1284.88 1220.40) scale(1.0605 1)" font-size="17.36" stroke="#000" stroke-width="0.38">CCR2+si-Ctrl</text>
<line x1="1245.30" y1="1231.60" x2="1271.50" y2="1231.60" stroke="#c0c000" stroke-width="2.7" stroke-linecap="butt"/>
<path d="M1258.40 1235.23L1262.03 1228.96L1254.77 1228.96Z" fill="#c0c000"/>
<text transform="translate(1284.93 1237.48) scale(0.9920 1)" font-size="17.61" stroke="#000" stroke-width="0.38">CCR2+si-β -catenin</text>
<text transform="translate(1460.18 1515.98) scale(1.0074 1)" font-size="20.11" stroke="#000" stroke-width="0.38">(μM)</text>
<line x1="1578.80" y1="1251.20" x2="1578.80" y2="1493.30" stroke="#000" stroke-width="2.6" stroke-linecap="butt"/>
<line x1="1571.30" y1="1492.00" x2="1578.80" y2="1492.00" stroke="#000" stroke-width="2.6" stroke-linecap="butt"/>
<text x="1569.10" y="1499.45" font-size="20.8" text-anchor="end" font-weight="bold">0</text>
<line x1="1571.30" y1="1444.10" x2="1578.80" y2="1444.10" stroke="#000" stroke-width="2.6" stroke-linecap="butt"/>
<text x="1569.10" y="1451.55" font-size="20.8" text-anchor="end" font-weight="bold">20</text>
<line x1="1571.30" y1="1396.20" x2="1578.80" y2="1396.20" stroke="#000" stroke-width="2.6" stroke-linecap="butt"/>
<text x="1569.10" y="1403.65" font-size="20.8" text-anchor="end" font-weight="bold">40</text>
<line x1="1571.30" y1="1348.30" x2="1578.80" y2="1348.30" stroke="#000" stroke-width="2.6" stroke-linecap="butt"/>
<text x="1569.10" y="1355.75" font-size="20.8" text-anchor="end" font-weight="bold">60</text>
<line x1="1571.30" y1="1300.40" x2="1578.80" y2="1300.40" stroke="#000" stroke-width="2.6" stroke-linecap="butt"/>
<text x="1569.10" y="1307.85" font-size="20.8" text-anchor="end" font-weight="bold">80</text>
<line x1="1571.30" y1="1252.50" x2="1578.80" y2="1252.50" stroke="#000" stroke-width="2.6" stroke-linecap="butt"/>
<text x="1569.10" y="1259.95" font-size="20.8" text-anchor="end" font-weight="bold">100</text>
<line x1="1571.30" y1="1492.00" x2="1937.20" y2="1492.00" stroke="#000" stroke-width="2.6" stroke-linecap="butt"/>
<line x1="1578.80" y1="1492.00" x2="1578.80" y2="1499.50" stroke="#000" stroke-width="2.6" stroke-linecap="butt"/>
<text x="1579.10" y="1520.30" font-size="20.8" text-anchor="middle" font-weight="bold">0</text>
<line x1="1638.00" y1="1492.00" x2="1638.00" y2="1499.50" stroke="#000" stroke-width="2.6" stroke-linecap="butt"/>
<text x="1638.30" y="1520.30" font-size="20.8" text-anchor="middle" font-weight="bold">1</text>
<line x1="1697.70" y1="1492.00" x2="1697.70" y2="1499.50" stroke="#000" stroke-width="2.6" stroke-linecap="butt"/>
<text x="1698.00" y="1520.30" font-size="20.8" text-anchor="middle" font-weight="bold">5</text>
<line x1="1757.30" y1="1492.00" x2="1757.30" y2="1499.50" stroke="#000" stroke-width="2.6" stroke-linecap="butt"/>
<text x="1757.60" y="1520.30" font-size="20.8" text-anchor="middle" font-weight="bold">10</text>
<line x1="1816.80" y1="1492.00" x2="1816.80" y2="1499.50" stroke="#000" stroke-width="2.6" stroke-linecap="butt"/>
<text x="1817.10" y="1520.30" font-size="20.8" text-anchor="middle" font-weight="bold">20</text>
<line x1="1876.40" y1="1492.00" x2="1876.40" y2="1499.50" stroke="#000" stroke-width="2.6" stroke-linecap="butt"/>
<text x="1876.70" y="1520.30" font-size="20.8" text-anchor="middle" font-weight="bold">40</text>
<line x1="1935.90" y1="1492.00" x2="1935.90" y2="1499.50" stroke="#000" stroke-width="2.6" stroke-linecap="butt"/>
<text x="1936.20" y="1520.30" font-size="20.8" text-anchor="middle" font-weight="bold">60</text>
<path d="M1578.80 1252.50 L1638.00 1314.53 L1697.70 1343.03 L1757.30 1379.67 L1816.80 1400.03 L1876.40 1415.36 L1935.90 1428.77" fill="none" stroke="#ff0000" stroke-width="2.7" stroke-linejoin="round"/>
<line x1="1638.00" y1="1307.35" x2="1638.00" y2="1321.72" stroke="#ff0000" stroke-width="2.8" stroke-linecap="butt"/>
<line x1="1634.10" y1="1307.35" x2="1641.90" y2="1307.35" stroke="#ff0000" stroke-width="2.4" stroke-linecap="round"/>
<line x1="1634.10" y1="1321.72" x2="1641.90" y2="1321.72" stroke="#ff0000" stroke-width="2.4" stroke-linecap="round"/>
<line x1="1697.70" y1="1334.65" x2="1697.70" y2="1351.41" stroke="#ff0000" stroke-width="2.8" stroke-linecap="butt"/>
<line x1="1693.80" y1="1334.65" x2="1701.60" y2="1334.65" stroke="#ff0000" stroke-width="2.4" stroke-linecap="round"/>
<line x1="1693.80" y1="1351.41" x2="1701.60" y2="1351.41" stroke="#ff0000" stroke-width="2.4" stroke-linecap="round"/>
<line x1="1757.30" y1="1371.29" x2="1757.30" y2="1388.06" stroke="#ff0000" stroke-width="2.8" stroke-linecap="butt"/>
<line x1="1753.40" y1="1371.29" x2="1761.20" y2="1371.29" stroke="#ff0000" stroke-width="2.4" stroke-linecap="round"/>
<line x1="1753.40" y1="1388.06" x2="1761.20" y2="1388.06" stroke="#ff0000" stroke-width="2.4" stroke-linecap="round"/>
<line x1="1816.80" y1="1392.85" x2="1816.80" y2="1407.22" stroke="#ff0000" stroke-width="2.8" stroke-linecap="butt"/>
<line x1="1812.90" y1="1392.85" x2="1820.70" y2="1392.85" stroke="#ff0000" stroke-width="2.4" stroke-linecap="round"/>
<line x1="1812.90" y1="1407.22" x2="1820.70" y2="1407.22" stroke="#ff0000" stroke-width="2.4" stroke-linecap="round"/>
<line x1="1876.40" y1="1408.17" x2="1876.40" y2="1422.55" stroke="#ff0000" stroke-width="2.8" stroke-linecap="butt"/>
<line x1="1872.50" y1="1408.17" x2="1880.30" y2="1408.17" stroke="#ff0000" stroke-width="2.4" stroke-linecap="round"/>
<line x1="1872.50" y1="1422.55" x2="1880.30" y2="1422.55" stroke="#ff0000" stroke-width="2.4" stroke-linecap="round"/>
<line x1="1935.90" y1="1420.39" x2="1935.90" y2="1437.15" stroke="#ff0000" stroke-width="2.8" stroke-linecap="butt"/>
<line x1="1932.00" y1="1420.39" x2="1939.80" y2="1420.39" stroke="#ff0000" stroke-width="2.4" stroke-linecap="round"/>
<line x1="1932.00" y1="1437.15" x2="1939.80" y2="1437.15" stroke="#ff0000" stroke-width="2.4" stroke-linecap="round"/>
<circle cx="1578.80" cy="1252.50" r="3.60" fill="#ff0000"/>
<circle cx="1638.00" cy="1314.53" r="3.60" fill="#ff0000"/>
<circle cx="1697.70" cy="1343.03" r="3.60" fill="#ff0000"/>
<circle cx="1757.30" cy="1379.67" r="3.60" fill="#ff0000"/>
<circle cx="1816.80" cy="1400.03" r="3.60" fill="#ff0000"/>
<circle cx="1876.40" cy="1415.36" r="3.60" fill="#ff0000"/>
<circle cx="1935.90" cy="1428.77" r="3.60" fill="#ff0000"/>
<path d="M1578.80 1252.50 L1638.00 1335.85 L1697.70 1363.15 L1757.30 1404.58 L1816.80 1421.59 L1876.40 1435.96 L1935.90 1450.09" fill="none" stroke="#0000c0" stroke-width="2.7" stroke-linejoin="round"/>
<line x1="1638.00" y1="1328.66" x2="1638.00" y2="1343.03" stroke="#0000c0" stroke-width="2.8" stroke-linecap="butt"/>
<line x1="1634.10" y1="1328.66" x2="1641.90" y2="1328.66" stroke="#0000c0" stroke-width="2.4" stroke-linecap="round"/>
<line x1="1634.10" y1="1343.03" x2="1641.90" y2="1343.03" stroke="#0000c0" stroke-width="2.4" stroke-linecap="round"/>
<line x1="1697.70" y1="1355.96" x2="1697.70" y2="1370.33" stroke="#0000c0" stroke-width="2.8" stroke-linecap="butt"/>
<line x1="1693.80" y1="1355.96" x2="1701.60" y2="1355.96" stroke="#0000c0" stroke-width="2.4" stroke-linecap="round"/>
<line x1="1693.80" y1="1370.33" x2="1701.60" y2="1370.33" stroke="#0000c0" stroke-width="2.4" stroke-linecap="round"/>
<line x1="1757.30" y1="1396.20" x2="1757.30" y2="1412.96" stroke="#0000c0" stroke-width="2.8" stroke-linecap="butt"/>
<line x1="1753.40" y1="1396.20" x2="1761.20" y2="1396.20" stroke="#0000c0" stroke-width="2.4" stroke-linecap="round"/>
<line x1="1753.40" y1="1412.96" x2="1761.20" y2="1412.96" stroke="#0000c0" stroke-width="2.4" stroke-linecap="round"/>
<line x1="1816.80" y1="1415.60" x2="1816.80" y2="1427.57" stroke="#0000c0" stroke-width="2.8" stroke-linecap="butt"/>
<line x1="1812.90" y1="1415.60" x2="1820.70" y2="1415.60" stroke="#0000c0" stroke-width="2.4" stroke-linecap="round"/>
<line x1="1812.90" y1="1427.57" x2="1820.70" y2="1427.57" stroke="#0000c0" stroke-width="2.4" stroke-linecap="round"/>
<line x1="1876.40" y1="1428.77" x2="1876.40" y2="1443.14" stroke="#0000c0" stroke-width="2.8" stroke-linecap="butt"/>
<line x1="1872.50" y1="1428.77" x2="1880.30" y2="1428.77" stroke="#0000c0" stroke-width="2.4" stroke-linecap="round"/>
<line x1="1872.50" y1="1443.14" x2="1880.30" y2="1443.14" stroke="#0000c0" stroke-width="2.4" stroke-linecap="round"/>
<line x1="1935.90" y1="1444.10" x2="1935.90" y2="1456.08" stroke="#0000c0" stroke-width="2.8" stroke-linecap="butt"/>
<line x1="1932.00" y1="1444.10" x2="1939.80" y2="1444.10" stroke="#0000c0" stroke-width="2.4" stroke-linecap="round"/>
<line x1="1932.00" y1="1456.08" x2="1939.80" y2="1456.08" stroke="#0000c0" stroke-width="2.4" stroke-linecap="round"/>
<rect x="1575.20" y="1248.90" width="7.20" height="7.20" fill="#0000c0"/>
<rect x="1634.40" y="1332.25" width="7.20" height="7.20" fill="#0000c0"/>
<rect x="1694.10" y="1359.55" width="7.20" height="7.20" fill="#0000c0"/>
<rect x="1753.70" y="1400.98" width="7.20" height="7.20" fill="#0000c0"/>
<rect x="1813.20" y="1417.99" width="7.20" height="7.20" fill="#0000c0"/>
<rect x="1872.80" y="1432.36" width="7.20" height="7.20" fill="#0000c0"/>
<rect x="1932.30" y="1446.49" width="7.20" height="7.20" fill="#0000c0"/>
<path d="M1578.80 1252.50 L1638.00 1282.68 L1697.70 1299.92 L1757.30 1341.83 L1816.80 1353.57 L1876.40 1380.39 L1935.90 1393.57" fill="none" stroke="#00c000" stroke-width="2.7" stroke-linejoin="round"/>
<line x1="1638.00" y1="1275.49" x2="1638.00" y2="1289.86" stroke="#00c000" stroke-width="2.8" stroke-linecap="butt"/>
<line x1="1634.10" y1="1275.49" x2="1641.90" y2="1275.49" stroke="#00c000" stroke-width="2.4" stroke-linecap="round"/>
<line x1="1634.10" y1="1289.86" x2="1641.90" y2="1289.86" stroke="#00c000" stroke-width="2.4" stroke-linecap="round"/>
<line x1="1697.70" y1="1291.54" x2="1697.70" y2="1308.30" stroke="#00c000" stroke-width="2.8" stroke-linecap="butt"/>
<line x1="1693.80" y1="1291.54" x2="1701.60" y2="1291.54" stroke="#00c000" stroke-width="2.4" stroke-linecap="round"/>
<line x1="1693.80" y1="1308.30" x2="1701.60" y2="1308.30" stroke="#00c000" stroke-width="2.4" stroke-linecap="round"/>
<line x1="1757.30" y1="1332.25" x2="1757.30" y2="1351.41" stroke="#00c000" stroke-width="2.8" stroke-linecap="butt"/>
<line x1="1753.40" y1="1332.25" x2="1761.20" y2="1332.25" stroke="#00c000" stroke-width="2.4" stroke-linecap="round"/>
<line x1="1753.40" y1="1351.41" x2="1761.20" y2="1351.41" stroke="#00c000" stroke-width="2.4" stroke-linecap="round"/>
<line x1="1816.80" y1="1343.99" x2="1816.80" y2="1363.15" stroke="#00c000" stroke-width="2.8" stroke-linecap="butt"/>
<line x1="1812.90" y1="1343.99" x2="1820.70" y2="1343.99" stroke="#00c000" stroke-width="2.4" stroke-linecap="round"/>
<line x1="1812.90" y1="1363.15" x2="1820.70" y2="1363.15" stroke="#00c000" stroke-width="2.4" stroke-linecap="round"/>
<line x1="1876.40" y1="1369.62" x2="1876.40" y2="1391.17" stroke="#00c000" stroke-width="2.8" stroke-linecap="butt"/>
<line x1="1872.50" y1="1369.62" x2="1880.30" y2="1369.62" stroke="#00c000" stroke-width="2.4" stroke-linecap="round"/>
<line x1="1872.50" y1="1391.17" x2="1880.30" y2="1391.17" stroke="#00c000" stroke-width="2.4" stroke-linecap="round"/>
<line x1="1935.90" y1="1382.79" x2="1935.90" y2="1404.34" stroke="#00c000" stroke-width="2.8" stroke-linecap="butt"/>
<line x1="1932.00" y1="1382.79" x2="1939.80" y2="1382.79" stroke="#00c000" stroke-width="2.4" stroke-linecap="round"/>
<line x1="1932.00" y1="1404.34" x2="1939.80" y2="1404.34" stroke="#00c000" stroke-width="2.4" stroke-linecap="round"/>
<path d="M1578.80 1248.54L1582.76 1255.38L1574.84 1255.38Z" fill="#00c000"/>
<path d="M1638.00 1278.72L1641.96 1285.56L1634.04 1285.56Z" fill="#00c000"/>
<path d="M1697.70 1295.96L1701.66 1302.80L1693.74 1302.80Z" fill="#00c000"/>
<path d="M1757.30 1337.87L1761.26 1344.71L1753.34 1344.71Z" fill="#00c000"/>
<path d="M1816.80 1349.61L1820.76 1356.45L1812.84 1356.45Z" fill="#00c000"/>
<path d="M1876.40 1376.43L1880.36 1383.27L1872.44 1383.27Z" fill="#00c000"/>
<path d="M1935.90 1389.61L1939.86 1396.45L1931.94 1396.45Z" fill="#00c000"/>
<path d="M1578.80 1252.50 L1638.00 1309.50 L1697.70 1326.51 L1757.30 1372.25 L1816.80 1393.57 L1876.40 1411.05 L1935.90 1421.59" fill="none" stroke="#c0c000" stroke-width="2.7" stroke-linejoin="round"/>
<line x1="1638.00" y1="1299.92" x2="1638.00" y2="1319.08" stroke="#c0c000" stroke-width="2.8" stroke-linecap="butt"/>
<line x1="1634.10" y1="1299.92" x2="1641.90" y2="1299.92" stroke="#c0c000" stroke-width="2.4" stroke-linecap="round"/>
<line x1="1634.10" y1="1319.08" x2="1641.90" y2="1319.08" stroke="#c0c000" stroke-width="2.4" stroke-linecap="round"/>
<line x1="1697.70" y1="1316.93" x2="1697.70" y2="1336.09" stroke="#c0c000" stroke-width="2.8" stroke-linecap="butt"/>
<line x1="1693.80" y1="1316.93" x2="1701.60" y2="1316.93" stroke="#c0c000" stroke-width="2.4" stroke-linecap="round"/>
<line x1="1693.80" y1="1336.09" x2="1701.60" y2="1336.09" stroke="#c0c000" stroke-width="2.4" stroke-linecap="round"/>
<line x1="1757.30" y1="1362.67" x2="1757.30" y2="1381.83" stroke="#c0c000" stroke-width="2.8" stroke-linecap="butt"/>
<line x1="1753.40" y1="1362.67" x2="1761.20" y2="1362.67" stroke="#c0c000" stroke-width="2.4" stroke-linecap="round"/>
<line x1="1753.40" y1="1381.83" x2="1761.20" y2="1381.83" stroke="#c0c000" stroke-width="2.4" stroke-linecap="round"/>
<line x1="1816.80" y1="1383.99" x2="1816.80" y2="1403.15" stroke="#c0c000" stroke-width="2.8" stroke-linecap="butt"/>
<line x1="1812.90" y1="1383.99" x2="1820.70" y2="1383.99" stroke="#c0c000" stroke-width="2.4" stroke-linecap="round"/>
<line x1="1812.90" y1="1403.15" x2="1820.70" y2="1403.15" stroke="#c0c000" stroke-width="2.4" stroke-linecap="round"/>
<line x1="1876.40" y1="1402.67" x2="1876.40" y2="1419.43" stroke="#c0c000" stroke-width="2.8" stroke-linecap="butt"/>
<line x1="1872.50" y1="1402.67" x2="1880.30" y2="1402.67" stroke="#c0c000" stroke-width="2.4" stroke-linecap="round"/>
<line x1="1872.50" y1="1419.43" x2="1880.30" y2="1419.43" stroke="#c0c000" stroke-width="2.4" stroke-linecap="round"/>
<line x1="1935.90" y1="1413.20" x2="1935.90" y2="1429.97" stroke="#c0c000" stroke-width="2.8" stroke-linecap="butt"/>
<line x1="1932.00" y1="1413.20" x2="1939.80" y2="1413.20" stroke="#c0c000" stroke-width="2.4" stroke-linecap="round"/>
<line x1="1932.00" y1="1429.97" x2="1939.80" y2="1429.97" stroke="#c0c000" stroke-width="2.4" stroke-linecap="round"/>
<path d="M1578.80 1256.46L1582.76 1249.62L1574.84 1249.62Z" fill="#c0c000"/>
<path d="M1638.00 1313.46L1641.96 1306.62L1634.04 1306.62Z" fill="#c0c000"/>
<path d="M1697.70 1330.47L1701.66 1323.63L1693.74 1323.63Z" fill="#c0c000"/>
<path d="M1757.30 1376.21L1761.26 1369.37L1753.34 1369.37Z" fill="#c0c000"/>
<path d="M1816.80 1397.53L1820.76 1390.69L1812.84 1390.69Z" fill="#c0c000"/>
<path d="M1876.40 1415.01L1880.36 1408.17L1872.44 1408.17Z" fill="#c0c000"/>
<path d="M1935.90 1425.55L1939.86 1418.71L1931.94 1418.71Z" fill="#c0c000"/>
<path d="M1944.10 1392.50H1950.30V1422.80H1944.10" fill="none" stroke="#000" stroke-width="1.8"/>
<text x="1957.10" y="1419.00" font-size="20" text-anchor="middle" stroke="#000" stroke-width="0.5">*</text>
<text x="1966.50" y="1419.00" font-size="20" text-anchor="middle" stroke="#000" stroke-width="0.5">*</text>
<text x="1975.90" y="1419.00" font-size="20" text-anchor="middle" stroke="#000" stroke-width="0.5">*</text>
<path d="M1954.20 1428.60H1959.00V1450.70H1954.20" fill="none" stroke="#000" stroke-width="1.8"/>
<text x="1966.30" y="1449.90" font-size="20" text-anchor="middle" stroke="#000" stroke-width="0.5">*</text>
<text x="1975.70" y="1449.90" font-size="20" text-anchor="middle" stroke="#000" stroke-width="0.5">*</text>
<text x="1985.10" y="1449.90" font-size="20" text-anchor="middle" stroke="#000" stroke-width="0.5">*</text>
<text transform="translate(1725.57 1185.90) scale(0.9372 1)" font-size="28.29" stroke="#000" stroke-width="0.38">SW480</text>
<text transform="translate(1536.25 1469.10) scale(1.0391 1) rotate(-90)" font-size="19.98" font-weight="bold">Survival cell rate (%)</text>
<line x1="1567.10" y1="1214.90" x2="1592.50" y2="1214.90" stroke="#ff0000" stroke-width="2.7" stroke-linecap="butt"/>
<circle cx="1579.80" cy="1214.90" r="3.30" fill="#ff0000"/>
<text transform="translate(1605.96 1221.40) scale(1.0558 1)" font-size="17.08" stroke="#000" stroke-width="0.38">EV+si-Ctrl</text>
<line x1="1567.10" y1="1232.50" x2="1592.50" y2="1232.50" stroke="#0000c0" stroke-width="2.7" stroke-linecap="butt"/>
<rect x="1576.50" y="1229.20" width="6.60" height="6.60" fill="#0000c0"/>
<text transform="translate(1606.03 1238.59) scale(1.0018 1)" font-size="17.07" stroke="#000" stroke-width="0.38">EV+si-β -catenin</text>
<line x1="1740.70" y1="1215.50" x2="1766.50" y2="1215.50" stroke="#00c000" stroke-width="2.7" stroke-linecap="butt"/>
<path d="M1753.60 1211.87L1757.23 1218.14L1749.97 1218.14Z" fill="#00c000"/>
<text transform="translate(1779.89 1221.40) scale(1.0615 1)" font-size="17.08" stroke="#000" stroke-width="0.38">CCR2+si-Ctrl</text>
<line x1="1740.70" y1="1233.50" x2="1766.50" y2="1233.50" stroke="#c0c000" stroke-width="2.7" stroke-linecap="butt"/>
<path d="M1753.60 1237.13L1757.23 1230.86L1749.97 1230.86Z" fill="#c0c000"/>
<text transform="translate(1779.93 1238.67) scale(1.0427 1)" font-size="16.63" stroke="#000" stroke-width="0.38">CCR2+si-β -catenin</text>
<text transform="translate(1952.98 1516.83) scale(0.9756 1)" font-size="20.87" stroke="#000" stroke-width="0.38">(μM)</text>
</svg>
</body></html>
